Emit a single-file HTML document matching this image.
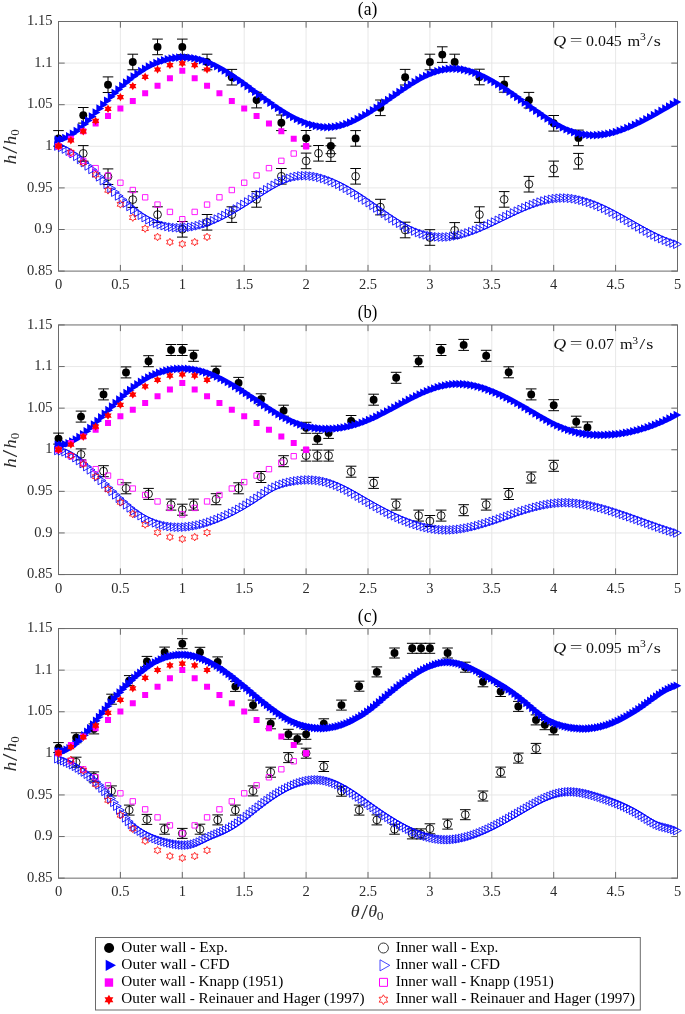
<!DOCTYPE html>
<html><head><meta charset="utf-8"><title>Figure</title>
<style>html,body{margin:0;padding:0;background:#fff;}svg{display:block;}</style>
</head><body>
<svg width="685" height="1014" viewBox="0 0 685 1014" font-family="Liberation Serif, serif" fill="#000">
<rect width="685" height="1014" fill="#fff"/>
<g><path d="M120.4 21.5V271.1M182.3 21.5V271.1M244.2 21.5V271.1M306.1 21.5V271.1M368 21.5V271.1M429.9 21.5V271.1M491.8 21.5V271.1M553.7 21.5V271.1M615.6 21.5V271.1M58.5 63.1H677.5M58.5 104.7H677.5M58.5 146.3H677.5M58.5 187.9H677.5M58.5 229.5H677.5" stroke="#e5e5e5" stroke-width="0.9" fill="none"/><path d="M58.5 271.1v-6.2M58.5 21.5v6.2M120.4 271.1v-6.2M120.4 21.5v6.2M182.3 271.1v-6.2M182.3 21.5v6.2M244.2 271.1v-6.2M244.2 21.5v6.2M306.1 271.1v-6.2M306.1 21.5v6.2M368 271.1v-6.2M368 21.5v6.2M429.9 271.1v-6.2M429.9 21.5v6.2M491.8 271.1v-6.2M491.8 21.5v6.2M553.7 271.1v-6.2M553.7 21.5v6.2M615.6 271.1v-6.2M615.6 21.5v6.2M677.5 271.1v-6.2M677.5 21.5v6.2M58.5 21.5h6.2M677.5 21.5h-6.2M58.5 63.1h6.2M677.5 63.1h-6.2M58.5 104.7h6.2M677.5 104.7h-6.2M58.5 146.3h6.2M677.5 146.3h-6.2M58.5 187.9h6.2M677.5 187.9h-6.2M58.5 229.5h6.2M677.5 229.5h-6.2M58.5 271.1h6.2M677.5 271.1h-6.2" stroke="#6a6a6a" stroke-width="1" fill="none"/><rect x="58.5" y="21.5" width="619" height="249.6" fill="none" stroke="#6a6a6a" stroke-width="1"/><path d="M58.5 130.6V146.2M53.2 130.6H63.8M53.2 146.2H63.8M83.26 107.5V123.1M77.96 107.5H88.56M77.96 123.1H88.56M108.02 76.9V92.5M102.72 76.9H113.32M102.72 92.5H113.32M132.78 54.2V69.8M127.48 54.2H138.08M127.48 69.8H138.08M157.54 39.1V54.7M152.24 39.1H162.84M152.24 54.7H162.84M182.3 39.1V54.7M177 39.1H187.6M177 54.7H187.6M207.06 54.2V69.8M201.76 54.2H212.36M201.76 69.8H212.36M231.82 69.4V85M226.52 69.4H237.12M226.52 85H237.12M256.58 92.3V107.9M251.28 92.3H261.88M251.28 107.9H261.88M281.34 115V130.6M276.04 115H286.64M276.04 130.6H286.64M306.1 130.5V146.1M300.8 130.5H311.4M300.8 146.1H311.4M330.86 138.1V153.7M325.56 138.1H336.16M325.56 153.7H336.16M355.62 130.6V146.2M350.32 130.6H360.92M350.32 146.2H360.92M380.38 100V115.6M375.08 100H385.68M375.08 115.6H385.68M405.14 69.4V85M399.84 69.4H410.44M399.84 85H410.44M429.9 54.2V69.8M424.6 54.2H435.2M424.6 69.8H435.2M442.28 46.8V62.4M436.98 46.8H447.58M436.98 62.4H447.58M454.66 54.2V69.8M449.36 54.2H459.96M449.36 69.8H459.96M479.42 69.2V84.8M474.12 69.2H484.72M474.12 84.8H484.72M504.18 76.6V92.2M498.88 76.6H509.48M498.88 92.2H509.48M528.94 92.4V108M523.64 92.4H534.24M523.64 108H534.24M553.7 115.5V131.1M548.4 115.5H559M548.4 131.1H559M578.46 130.1V145.7M573.16 130.1H583.76M573.16 145.7H583.76M83.26 145.6V161.2M77.96 145.6H88.56M77.96 161.2H88.56M108.02 168.9V184.5M102.72 168.9H113.32M102.72 184.5H113.32M132.78 191.8V207.4M127.48 191.8H138.08M127.48 207.4H138.08M157.54 206.8V222.4M152.24 206.8H162.84M152.24 222.4H162.84M182.3 221.5V237.1M177 221.5H187.6M177 237.1H187.6M207.06 214.5V230.1M201.76 214.5H212.36M201.76 230.1H212.36M231.82 206.8V222.4M226.52 206.8H237.12M226.52 222.4H237.12M256.58 191.6V207.2M251.28 191.6H261.88M251.28 207.2H261.88M281.34 168.5V184.1M276.04 168.5H286.64M276.04 184.1H286.64M306.1 153.1V168.7M300.8 153.1H311.4M300.8 168.7H311.4M318.48 145.5V161.1M313.18 145.5H323.78M313.18 161.1H323.78M330.86 145.8V161.4M325.56 145.8H336.16M325.56 161.4H336.16M355.62 168.5V184.1M350.32 168.5H360.92M350.32 184.1H360.92M380.38 199.3V214.9M375.08 199.3H385.68M375.08 214.9H385.68M405.14 222.2V237.8M399.84 222.2H410.44M399.84 237.8H410.44M429.9 229.7V245.3M424.6 229.7H435.2M424.6 245.3H435.2M454.66 222.6V238.2M449.36 222.6H459.96M449.36 238.2H459.96M479.42 206.8V222.4M474.12 206.8H484.72M474.12 222.4H484.72M504.18 191.6V207.2M498.88 191.6H509.48M498.88 207.2H509.48M528.94 176.4V192M523.64 176.4H534.24M523.64 192H534.24M553.7 161.1V176.7M548.4 161.1H559M548.4 176.7H559M578.46 153.4V169M573.16 153.4H583.76M573.16 169H583.76" stroke="#000" stroke-width="1" fill="none"/><g fill="#000"><circle cx="58.5" cy="138.4" r="3.95"/><circle cx="83.26" cy="115.3" r="3.95"/><circle cx="108.02" cy="84.7" r="3.95"/><circle cx="132.78" cy="62" r="3.95"/><circle cx="157.54" cy="46.9" r="3.95"/><circle cx="182.3" cy="46.9" r="3.95"/><circle cx="207.06" cy="62" r="3.95"/><circle cx="231.82" cy="77.2" r="3.95"/><circle cx="256.58" cy="100.1" r="3.95"/><circle cx="281.34" cy="122.8" r="3.95"/><circle cx="306.1" cy="138.3" r="3.95"/><circle cx="330.86" cy="145.9" r="3.95"/><circle cx="355.62" cy="138.4" r="3.95"/><circle cx="380.38" cy="107.8" r="3.95"/><circle cx="405.14" cy="77.2" r="3.95"/><circle cx="429.9" cy="62" r="3.95"/><circle cx="442.28" cy="54.6" r="3.95"/><circle cx="454.66" cy="62" r="3.95"/><circle cx="479.42" cy="77" r="3.95"/><circle cx="504.18" cy="84.4" r="3.95"/><circle cx="528.94" cy="100.2" r="3.95"/><circle cx="553.7" cy="123.3" r="3.95"/><circle cx="578.46" cy="137.9" r="3.95"/></g><g fill="none" stroke="#000" stroke-width="0.9"><circle cx="83.26" cy="153.4" r="3.9"/><circle cx="108.02" cy="176.7" r="3.9"/><circle cx="132.78" cy="199.6" r="3.9"/><circle cx="157.54" cy="214.6" r="3.9"/><circle cx="182.3" cy="229.3" r="3.9"/><circle cx="207.06" cy="222.3" r="3.9"/><circle cx="231.82" cy="214.6" r="3.9"/><circle cx="256.58" cy="199.4" r="3.9"/><circle cx="281.34" cy="176.3" r="3.9"/><circle cx="306.1" cy="160.9" r="3.9"/><circle cx="318.48" cy="153.3" r="3.9"/><circle cx="330.86" cy="153.6" r="3.9"/><circle cx="355.62" cy="176.3" r="3.9"/><circle cx="380.38" cy="207.1" r="3.9"/><circle cx="405.14" cy="230" r="3.9"/><circle cx="429.9" cy="237.5" r="3.9"/><circle cx="454.66" cy="230.4" r="3.9"/><circle cx="479.42" cy="214.6" r="3.9"/><circle cx="504.18" cy="199.4" r="3.9"/><circle cx="528.94" cy="184.2" r="3.9"/><circle cx="553.7" cy="168.9" r="3.9"/><circle cx="578.46" cy="161.2" r="3.9"/></g><path d="M54.6 135.54L62.4 139.84L54.6 144.14ZM58.4 134.97L66.2 139.27L58.4 143.57ZM62.2 133.72L70 138.02L62.2 142.32ZM65.99 131.88L73.79 136.18L65.99 140.48ZM69.79 129.5L77.59 133.8L69.79 138.1ZM73.59 126.68L81.39 130.98L73.59 135.28ZM77.39 123.47L85.19 127.77L77.39 132.07ZM81.18 119.96L88.98 124.26L81.18 128.56ZM84.98 116.21L92.78 120.51L84.98 124.81ZM88.78 112.3L96.58 116.6L88.78 120.9ZM92.58 108.31L100.38 112.61L92.58 116.91ZM96.37 104.3L104.17 108.6L96.37 112.9ZM100.17 100.32L107.97 104.62L100.17 108.92ZM103.97 96.4L111.77 100.7L103.97 105ZM107.77 92.55L115.57 96.85L107.77 101.15ZM111.56 88.79L119.36 93.09L111.56 97.39ZM115.36 85.15L123.16 89.45L115.36 93.75ZM119.16 81.65L126.96 85.95L119.16 90.25ZM122.96 78.3L130.76 82.6L122.96 86.9ZM126.75 75.13L134.55 79.43L126.75 83.73ZM130.55 72.15L138.35 76.45L130.55 80.75ZM134.35 69.38L142.15 73.68L134.35 77.98ZM138.15 66.83L145.95 71.13L138.15 75.43ZM141.94 64.49L149.74 68.79L141.94 73.09ZM145.74 62.37L153.54 66.67L145.74 70.97ZM149.54 60.46L157.34 64.76L149.54 69.06ZM153.34 58.76L161.14 63.06L153.34 67.36ZM157.13 57.29L164.93 61.59L157.13 65.89ZM160.93 56.03L168.73 60.33L160.93 64.63ZM164.73 54.99L172.53 59.29L164.73 63.59ZM168.53 54.18L176.33 58.48L168.53 62.78ZM172.32 53.59L180.12 57.89L172.32 62.19ZM176.12 53.22L183.92 57.52L176.12 61.82ZM179.92 53.08L187.72 57.38L179.92 61.68ZM183.72 53.16L191.52 57.46L183.72 61.76ZM187.51 53.47L195.31 57.77L187.51 62.07ZM191.31 54.01L199.11 58.31L191.31 62.61ZM195.11 54.78L202.91 59.08L195.11 63.38ZM198.91 55.78L206.71 60.08L198.91 64.38ZM202.7 57.01L210.5 61.31L202.7 65.61ZM206.5 58.47L214.3 62.77L206.5 67.07ZM210.3 60.14L218.1 64.44L210.3 68.74ZM214.1 62.01L221.9 66.31L214.1 70.61ZM217.89 64.06L225.69 68.36L217.89 72.66ZM221.69 66.27L229.49 70.57L221.69 74.87ZM225.49 68.62L233.29 72.92L225.49 77.22ZM229.29 71.09L237.09 75.39L229.29 79.69ZM233.08 73.66L240.88 77.96L233.08 82.26ZM236.88 76.32L244.68 80.62L236.88 84.92ZM240.68 79.04L248.48 83.34L240.68 87.64ZM244.48 81.81L252.28 86.11L244.48 90.41ZM248.27 84.62L256.07 88.92L248.27 93.22ZM252.07 87.43L259.87 91.73L252.07 96.03ZM255.87 90.24L263.67 94.54L255.87 98.84ZM259.67 93.03L267.47 97.33L259.67 101.63ZM263.47 95.77L271.27 100.07L263.47 104.37ZM267.26 98.47L275.06 102.77L267.26 107.07ZM271.06 101.1L278.86 105.4L271.06 109.7ZM274.86 103.65L282.66 107.95L274.86 112.25ZM278.66 106.1L286.46 110.4L278.66 114.7ZM282.45 108.44L290.25 112.74L282.45 117.04ZM286.25 110.66L294.05 114.96L286.25 119.26ZM290.05 112.75L297.85 117.05L290.05 121.35ZM293.85 114.68L301.65 118.98L293.85 123.28ZM297.64 116.44L305.44 120.74L297.64 125.04ZM301.44 118.02L309.24 122.32L301.44 126.62ZM305.24 119.41L313.04 123.71L305.24 128.01ZM309.04 120.59L316.84 124.89L309.04 129.19ZM312.83 121.54L320.63 125.84L312.83 130.14ZM316.63 122.26L324.43 126.56L316.63 130.86ZM320.43 122.73L328.23 127.03L320.43 131.33ZM324.23 122.93L332.03 127.23L324.23 131.53ZM328.02 122.85L335.82 127.15L328.02 131.45ZM331.82 122.48L339.62 126.78L331.82 131.08ZM335.62 121.82L343.42 126.12L335.62 130.42ZM339.42 120.88L347.22 125.18L339.42 129.48ZM343.21 119.7L351.01 124L343.21 128.3ZM347.01 118.28L354.81 122.58L347.01 126.88ZM350.81 116.64L358.61 120.94L350.81 125.24ZM354.61 114.82L362.41 119.12L354.61 123.42ZM358.4 112.82L366.2 117.12L358.4 121.42ZM362.2 110.67L370 114.97L362.2 119.27ZM366 108.39L373.8 112.69L366 116.99ZM369.8 106L377.6 110.3L369.8 114.6ZM373.59 103.51L381.39 107.81L373.59 112.11ZM377.39 100.95L385.19 105.25L377.39 109.55ZM381.19 98.34L388.99 102.64L381.19 106.94ZM384.99 95.69L392.79 99.99L384.99 104.29ZM388.78 93.03L396.58 97.33L388.78 101.63ZM392.58 90.37L400.38 94.67L392.58 98.97ZM396.38 87.74L404.18 92.04L396.38 96.34ZM400.18 85.15L407.98 89.45L400.18 93.75ZM403.97 82.62L411.77 86.92L403.97 91.22ZM407.77 80.18L415.57 84.48L407.77 88.78ZM411.57 77.84L419.37 82.14L411.57 86.44ZM415.37 75.62L423.17 79.92L415.37 84.22ZM419.16 73.54L426.96 77.84L419.16 82.14ZM422.96 71.63L430.76 75.93L422.96 80.23ZM426.76 69.89L434.56 74.19L426.76 78.49ZM430.56 68.36L438.36 72.66L430.56 76.96ZM434.35 67.04L442.15 71.34L434.35 75.64ZM438.15 65.96L445.95 70.26L438.15 74.56ZM441.95 65.14L449.75 69.44L441.95 73.74ZM445.75 64.61L453.55 68.91L445.75 73.21ZM449.54 64.36L457.34 68.66L449.54 72.96ZM453.34 64.41L461.14 68.71L453.34 73.01ZM457.14 64.73L464.94 69.03L457.14 73.33ZM460.94 65.32L468.74 69.62L460.94 73.92ZM464.73 66.16L472.53 70.46L464.73 74.76ZM468.53 67.23L476.33 71.53L468.53 75.83ZM472.33 68.51L480.13 72.81L472.33 77.11ZM476.13 70L483.93 74.3L476.13 78.6ZM479.93 71.68L487.73 75.98L479.93 80.28ZM483.72 73.53L491.52 77.83L483.72 82.13ZM487.52 75.54L495.32 79.84L487.52 84.14ZM491.32 77.69L499.12 81.99L491.32 86.29ZM495.12 79.96L502.92 84.26L495.12 88.56ZM498.91 82.35L506.71 86.65L498.91 90.95ZM502.71 84.83L510.51 89.13L502.71 93.43ZM506.51 87.4L514.31 91.7L506.51 96ZM510.31 90.04L518.11 94.34L510.31 98.64ZM514.1 92.72L521.9 97.02L514.1 101.32ZM517.9 95.44L525.7 99.74L517.9 104.04ZM521.7 98.19L529.5 102.49L521.7 106.79ZM525.5 100.94L533.3 105.24L525.5 109.54ZM529.29 103.68L537.09 107.98L529.29 112.28ZM533.09 106.4L540.89 110.7L533.09 115ZM536.89 109.07L544.69 113.37L536.89 117.67ZM540.69 111.69L548.49 115.99L540.69 120.29ZM544.48 114.22L552.28 118.52L544.48 122.82ZM548.28 116.65L556.08 120.95L548.28 125.25ZM552.08 118.95L559.88 123.25L552.08 127.55ZM555.88 121.1L563.68 125.4L555.88 129.7ZM559.67 123.09L567.47 127.39L559.67 131.69ZM563.47 124.88L571.27 129.18L563.47 133.48ZM567.27 126.46L575.07 130.76L567.27 135.06ZM571.07 127.81L578.87 132.11L571.07 136.41ZM574.86 128.9L582.66 133.2L574.86 137.5ZM578.66 129.75L586.46 134.05L578.66 138.35ZM582.46 130.36L590.26 134.66L582.46 138.96ZM586.26 130.73L594.06 135.03L586.26 139.33ZM590.05 130.89L597.85 135.19L590.05 139.49ZM593.85 130.83L601.65 135.13L593.85 139.43ZM597.65 130.56L605.45 134.86L597.65 139.16ZM601.45 130.1L609.25 134.4L601.45 138.7ZM605.24 129.45L613.04 133.75L605.24 138.05ZM609.04 128.63L616.84 132.93L609.04 137.23ZM612.84 127.63L620.64 131.93L612.84 136.23ZM616.64 126.48L624.44 130.78L616.64 135.08ZM620.43 125.18L628.23 129.48L620.43 133.78ZM624.23 123.75L632.03 128.05L624.23 132.35ZM628.03 122.19L635.83 126.49L628.03 130.79ZM631.83 120.52L639.63 124.82L631.83 129.12ZM635.62 118.75L643.42 123.05L635.62 127.35ZM639.42 116.88L647.22 121.18L639.42 125.48ZM643.22 114.93L651.02 119.23L643.22 123.53ZM647.02 112.92L654.82 117.22L647.02 121.52ZM650.81 110.84L658.61 115.14L650.81 119.44ZM654.61 108.72L662.41 113.02L654.61 117.32ZM658.41 106.55L666.21 110.85L658.41 115.15ZM662.21 104.36L670.01 108.66L662.21 112.96ZM666 102.16L673.8 106.46L666 110.76ZM669.8 99.95L677.6 104.25L669.8 108.55ZM673.6 97.74L681.4 102.04L673.6 106.34Z" fill="#00f"/><path d="M54.6 141.7L62.4 146L54.6 150.3ZM58.4 143.01L66.2 147.31L58.4 151.61ZM62.2 144.74L70 149.04L62.2 153.34ZM65.99 146.84L73.79 151.14L65.99 155.44ZM69.79 149.29L77.59 153.59L69.79 157.89ZM73.59 152.05L81.39 156.35L73.59 160.65ZM77.39 155.1L85.19 159.4L77.39 163.7ZM81.18 158.3L88.98 162.6L81.18 166.9ZM84.98 161.61L92.78 165.91L84.98 170.21ZM88.78 165.11L96.58 169.41L88.78 173.71ZM92.58 168.75L100.38 173.05L92.58 177.35ZM96.37 172.5L104.17 176.8L96.37 181.1ZM100.17 176.32L107.97 180.62L100.17 184.92ZM103.97 180.17L111.77 184.47L103.97 188.77ZM107.77 184.03L115.57 188.33L107.77 192.63ZM111.56 187.85L119.36 192.15L111.56 196.45ZM115.36 191.61L123.16 195.91L115.36 200.21ZM119.16 195.27L126.96 199.57L119.16 203.87ZM122.96 198.8L130.76 203.1L122.96 207.4ZM126.75 202.16L134.55 206.46L126.75 210.76ZM130.55 205.31L138.35 209.61L130.55 213.91ZM134.35 208.23L142.15 212.53L134.35 216.83ZM138.15 210.89L145.95 215.19L138.15 219.49ZM141.94 213.27L149.74 217.57L141.94 221.87ZM145.74 215.39L153.54 219.69L145.74 223.99ZM149.54 217.24L157.34 221.54L149.54 225.84ZM153.34 218.85L161.14 223.15L153.34 227.45ZM157.13 220.2L164.93 224.5L157.13 228.8ZM160.93 221.32L168.73 225.62L160.93 229.92ZM164.73 222.19L172.53 226.49L164.73 230.79ZM168.53 222.84L176.33 227.14L168.53 231.44ZM172.32 223.27L180.12 227.57L172.32 231.87ZM176.12 223.47L183.92 227.77L176.12 232.07ZM179.92 223.46L187.72 227.76L179.92 232.06ZM183.72 223.25L191.52 227.55L183.72 231.85ZM187.51 222.84L195.31 227.14L187.51 231.44ZM191.31 222.23L199.11 226.53L191.31 230.83ZM195.11 221.44L202.91 225.74L195.11 230.04ZM198.91 220.46L206.71 224.76L198.91 229.06ZM202.7 219.31L210.5 223.61L202.7 227.91ZM206.5 217.98L214.3 222.28L206.5 226.58ZM210.3 216.49L218.1 220.79L210.3 225.09ZM214.1 214.85L221.9 219.15L214.1 223.45ZM217.89 213.06L225.69 217.36L217.89 221.66ZM221.69 211.14L229.49 215.44L221.69 219.74ZM225.49 209.11L233.29 213.41L225.49 217.71ZM229.29 206.98L237.09 211.28L229.29 215.58ZM233.08 204.75L240.88 209.05L233.08 213.35ZM236.88 202.46L244.68 206.76L236.88 211.06ZM240.68 200.1L248.48 204.4L240.68 208.7ZM244.48 197.69L252.28 201.99L244.48 206.29ZM248.27 195.25L256.07 199.55L248.27 203.85ZM252.07 192.79L259.87 197.09L252.07 201.39ZM255.87 190.32L263.67 194.62L255.87 198.92ZM259.67 187.88L267.47 192.18L259.67 196.48ZM263.47 185.49L271.27 189.79L263.47 194.09ZM267.26 183.18L275.06 187.48L267.26 191.78ZM271.06 181L278.86 185.3L271.06 189.6ZM274.86 178.97L282.66 183.27L274.86 187.57ZM278.66 177.11L286.46 181.41L278.66 185.71ZM282.45 175.48L290.25 179.78L282.45 184.08ZM286.25 174.09L294.05 178.39L286.25 182.69ZM290.05 172.99L297.85 177.29L290.05 181.59ZM293.85 172.18L301.65 176.48L293.85 180.78ZM297.64 171.67L305.44 175.97L297.64 180.27ZM301.44 171.45L309.24 175.75L301.44 180.05ZM305.24 171.49L313.04 175.79L305.24 180.09ZM309.04 171.8L316.84 176.1L309.04 180.4ZM312.83 172.35L320.63 176.65L312.83 180.95ZM316.63 173.12L324.43 177.42L316.63 181.72ZM320.43 174.12L328.23 178.42L320.43 182.72ZM324.23 175.32L332.03 179.62L324.23 183.92ZM328.02 176.72L335.82 181.02L328.02 185.32ZM331.82 178.29L339.62 182.59L331.82 186.89ZM335.62 180.03L343.42 184.33L335.62 188.63ZM339.42 181.92L347.22 186.22L339.42 190.52ZM343.21 183.96L351.01 188.26L343.21 192.56ZM347.01 186.12L354.81 190.42L347.01 194.72ZM350.81 188.39L358.61 192.69L350.81 196.99ZM354.61 190.76L362.41 195.06L354.61 199.36ZM358.4 193.23L366.2 197.53L358.4 201.83ZM362.2 195.77L370 200.07L362.2 204.37ZM366 198.37L373.8 202.67L366 206.97ZM369.8 201.01L377.6 205.31L369.8 209.61ZM373.59 203.68L381.39 207.98L373.59 212.28ZM377.39 206.34L385.19 210.64L377.39 214.94ZM381.19 208.99L388.99 213.29L381.19 217.59ZM384.99 211.59L392.79 215.89L384.99 220.19ZM388.78 214.12L396.58 218.42L388.78 222.72ZM392.58 216.57L400.38 220.87L392.58 225.17ZM396.38 218.91L404.18 223.21L396.38 227.51ZM400.18 221.11L407.98 225.41L400.18 229.71ZM403.97 223.16L411.77 227.46L403.97 231.76ZM407.77 225.03L415.57 229.33L407.77 233.63ZM411.57 226.71L419.37 231.01L411.57 235.31ZM415.37 228.19L423.17 232.49L415.37 236.79ZM419.16 229.47L426.96 233.77L419.16 238.07ZM422.96 230.55L430.76 234.85L422.96 239.15ZM426.76 231.42L434.56 235.72L426.76 240.02ZM430.56 232.08L438.36 236.38L430.56 240.68ZM434.35 232.53L442.15 236.83L434.35 241.13ZM438.15 232.77L445.95 237.07L438.15 241.37ZM441.95 232.79L449.75 237.09L441.95 241.39ZM445.75 232.59L453.55 236.89L445.75 241.19ZM449.54 232.19L457.34 236.49L449.54 240.79ZM453.34 231.58L461.14 235.88L453.34 240.18ZM457.14 230.79L464.94 235.09L457.14 239.39ZM460.94 229.82L468.74 234.12L460.94 238.42ZM464.73 228.71L472.53 233.01L464.73 237.31ZM468.53 227.45L476.33 231.75L468.53 236.05ZM472.33 226.07L480.13 230.37L472.33 234.67ZM476.13 224.58L483.93 228.88L476.13 233.18ZM479.93 222.99L487.73 227.29L479.93 231.59ZM483.72 221.33L491.52 225.63L483.72 229.93ZM487.52 219.59L495.32 223.89L487.52 228.19ZM491.32 217.81L499.12 222.11L491.32 226.41ZM495.12 215.99L502.92 220.29L495.12 224.59ZM498.91 214.15L506.71 218.45L498.91 222.75ZM502.71 212.3L510.51 216.6L502.71 220.9ZM506.51 210.47L514.31 214.77L506.51 219.07ZM510.31 208.65L518.11 212.95L510.31 217.25ZM514.1 206.88L521.9 211.18L514.1 215.48ZM517.9 205.16L525.7 209.46L517.9 213.76ZM521.7 203.51L529.5 207.81L521.7 212.11ZM525.5 201.94L533.3 206.24L525.5 210.54ZM529.29 200.47L537.09 204.77L529.29 209.07ZM533.09 199.1L540.89 203.4L533.09 207.7ZM536.89 197.86L544.69 202.16L536.89 206.46ZM540.69 196.76L548.49 201.06L540.69 205.36ZM544.48 195.8L552.28 200.1L544.48 204.4ZM548.28 195.01L556.08 199.31L548.28 203.61ZM552.08 194.4L559.88 198.7L552.08 203ZM555.88 193.98L563.68 198.28L555.88 202.58ZM559.67 193.76L567.47 198.06L559.67 202.36ZM563.47 193.76L571.27 198.06L563.47 202.36ZM567.27 193.98L575.07 198.28L567.27 202.58ZM571.07 194.41L578.87 198.71L571.07 203.01ZM574.86 195.05L582.66 199.35L574.86 203.65ZM578.66 195.87L586.46 200.17L578.66 204.47ZM582.46 196.87L590.26 201.17L582.46 205.47ZM586.26 198.03L594.06 202.33L586.26 206.63ZM590.05 199.35L597.85 203.65L590.05 207.95ZM593.85 200.82L601.65 205.12L593.85 209.42ZM597.65 202.41L605.45 206.71L597.65 211.01ZM601.45 204.13L609.25 208.43L601.45 212.73ZM605.24 205.95L613.04 210.25L605.24 214.55ZM609.04 207.87L616.84 212.17L609.04 216.47ZM612.84 209.86L620.64 214.16L612.84 218.46ZM616.64 211.91L624.44 216.21L616.64 220.51ZM620.43 214.01L628.23 218.31L620.43 222.61ZM624.23 216.14L632.03 220.44L624.23 224.74ZM628.03 218.29L635.83 222.59L628.03 226.89ZM631.83 220.44L639.63 224.74L631.83 229.04ZM635.62 222.58L643.42 226.88L635.62 231.18ZM639.42 224.69L647.22 228.99L639.42 233.29ZM643.22 226.76L651.02 231.06L643.22 235.36ZM647.02 228.76L654.82 233.06L647.02 237.36ZM650.81 230.7L658.61 235L650.81 239.3ZM654.61 232.54L662.41 236.84L654.61 241.14ZM658.41 234.28L666.21 238.58L658.41 242.88ZM662.21 235.91L670.01 240.21L662.21 244.51ZM666 237.4L673.8 241.7L666 246ZM669.8 238.74L677.6 243.04L669.8 247.34ZM673.6 239.91L681.4 244.21L673.6 248.51Z" fill="none" stroke="#00f" stroke-width="0.85"/><path d="M55.5 143.25h6v6h-6ZM67.88 135.69h6v6h-6ZM80.26 128.14h6v6h-6ZM92.64 120.58h6v6h-6ZM105.02 113.03h6v6h-6ZM117.4 105.47h6v6h-6ZM129.78 97.92h6v6h-6ZM142.16 90.36h6v6h-6ZM154.54 82.81h6v6h-6ZM166.92 75.25h6v6h-6ZM179.3 67.7h6v6h-6ZM191.68 75.26h6v6h-6ZM204.06 82.81h6v6h-6ZM216.44 90.37h6v6h-6ZM228.82 97.92h6v6h-6ZM241.2 105.47h6v6h-6ZM253.58 113.03h6v6h-6ZM265.96 120.59h6v6h-6ZM278.34 128.14h6v6h-6ZM290.72 135.7h6v6h-6ZM303.1 143.25h6v6h-6Z" fill="#f0f"/><path d="M55.8 143.55h5.4v5.4h-5.4ZM68.18 150.84h5.4v5.4h-5.4ZM80.56 158.14h5.4v5.4h-5.4ZM92.94 165.44h5.4v5.4h-5.4ZM105.32 172.73h5.4v5.4h-5.4ZM117.7 180.03h5.4v5.4h-5.4ZM130.08 187.32h5.4v5.4h-5.4ZM142.46 194.62h5.4v5.4h-5.4ZM154.84 201.91h5.4v5.4h-5.4ZM167.22 209.2h5.4v5.4h-5.4ZM179.6 216.5h5.4v5.4h-5.4ZM191.98 209.2h5.4v5.4h-5.4ZM204.36 201.91h5.4v5.4h-5.4ZM216.74 194.62h5.4v5.4h-5.4ZM229.12 187.32h5.4v5.4h-5.4ZM241.5 180.03h5.4v5.4h-5.4ZM253.88 172.73h5.4v5.4h-5.4ZM266.26 165.44h5.4v5.4h-5.4ZM278.64 158.14h5.4v5.4h-5.4ZM291.02 150.84h5.4v5.4h-5.4ZM303.4 143.55h5.4v5.4h-5.4Z" fill="none" stroke="#f0f" stroke-width="0.9"/><path d="M58.5 142.05L57.27 144.13L54.86 144.15L56.05 146.25L54.86 148.35L57.27 148.37L58.5 150.45L59.73 148.37L62.14 148.35L60.95 146.25L62.14 144.15L59.73 144.13ZM70.88 136.1L69.66 138.18L67.24 138.2L68.43 140.3L67.24 142.4L69.66 142.42L70.88 144.5L72.1 142.42L74.52 142.4L73.33 140.3L74.52 138.2L72.1 138.18ZM83.26 127.2L82.04 129.28L79.62 129.3L80.81 131.4L79.62 133.5L82.04 133.52L83.26 135.6L84.48 133.52L86.9 133.5L85.71 131.4L86.9 129.3L84.49 129.28ZM95.64 116.7L94.42 118.78L92 118.8L93.19 120.9L92 123L94.42 123.02L95.64 125.1L96.87 123.02L99.28 123L98.09 120.9L99.28 118.8L96.87 118.78ZM108.02 104.6L106.8 106.68L104.38 106.7L105.57 108.8L104.38 110.9L106.8 110.92L108.02 113L109.25 110.92L111.66 110.9L110.47 108.8L111.66 106.7L109.25 106.68ZM120.4 92.9L119.18 94.98L116.76 95L117.95 97.1L116.76 99.2L119.18 99.22L120.4 101.3L121.62 99.22L124.04 99.2L122.85 97.1L124.04 95L121.62 94.98ZM132.78 81.9L131.56 83.98L129.14 84L130.33 86.1L129.14 88.2L131.56 88.22L132.78 90.3L134.01 88.22L136.42 88.2L135.23 86.1L136.42 84L134.01 83.98ZM145.16 72.6L143.94 74.68L141.52 74.7L142.71 76.8L141.52 78.9L143.94 78.92L145.16 81L146.39 78.92L148.8 78.9L147.61 76.8L148.8 74.7L146.39 74.68ZM157.54 65.3L156.32 67.38L153.9 67.4L155.09 69.5L153.9 71.6L156.32 71.62L157.54 73.7L158.77 71.62L161.18 71.6L159.99 69.5L161.18 67.4L158.77 67.38ZM169.92 60.9L168.7 62.98L166.28 63L167.47 65.1L166.28 67.2L168.7 67.22L169.92 69.3L171.15 67.22L173.56 67.2L172.37 65.1L173.56 63L171.15 62.98ZM182.3 59.2L181.08 61.28L178.66 61.3L179.85 63.4L178.66 65.5L181.08 65.52L182.3 67.6L183.53 65.52L185.94 65.5L184.75 63.4L185.94 61.3L183.53 61.28ZM194.68 60.9L193.46 62.98L191.04 63L192.23 65.1L191.04 67.2L193.46 67.22L194.68 69.3L195.91 67.22L198.32 67.2L197.13 65.1L198.32 63L195.91 62.98ZM207.06 65.3L205.84 67.38L203.42 67.4L204.61 69.5L203.42 71.6L205.84 71.62L207.06 73.7L208.29 71.62L210.7 71.6L209.51 69.5L210.7 67.4L208.29 67.38Z" fill="#f00"/><path d="M58.5 142.2L57.4 144.09L55.21 144.1L56.3 146L55.21 147.9L57.4 147.91L58.5 149.8L59.6 147.91L61.79 147.9L60.7 146L61.79 144.1L59.6 144.09ZM70.88 148.4L69.78 150.29L67.59 150.3L68.68 152.2L67.59 154.1L69.78 154.11L70.88 156L71.98 154.11L74.17 154.1L73.08 152.2L74.17 150.3L71.98 150.29ZM83.26 158.9L82.16 160.79L79.97 160.8L81.06 162.7L79.97 164.6L82.16 164.61L83.26 166.5L84.36 164.61L86.55 164.6L85.46 162.7L86.55 160.8L84.36 160.79ZM95.64 171L94.54 172.89L92.35 172.9L93.44 174.8L92.35 176.7L94.54 176.71L95.64 178.6L96.74 176.71L98.93 176.7L97.84 174.8L98.93 172.9L96.74 172.89ZM108.02 186.5L106.92 188.39L104.73 188.4L105.82 190.3L104.73 192.2L106.92 192.21L108.02 194.1L109.12 192.21L111.31 192.2L110.22 190.3L111.31 188.4L109.12 188.39ZM120.4 200.5L119.3 202.39L117.11 202.4L118.2 204.3L117.11 206.2L119.3 206.21L120.4 208.1L121.5 206.21L123.69 206.2L122.6 204.3L123.69 202.4L121.5 202.39ZM132.78 213.8L131.68 215.69L129.49 215.7L130.58 217.6L129.49 219.5L131.68 219.51L132.78 221.4L133.88 219.51L136.07 219.5L134.98 217.6L136.07 215.7L133.88 215.69ZM145.16 224.8L144.06 226.69L141.87 226.7L142.96 228.6L141.87 230.5L144.06 230.51L145.16 232.4L146.26 230.51L148.45 230.5L147.36 228.6L148.45 226.7L146.26 226.69ZM157.54 233.2L156.44 235.09L154.25 235.1L155.34 237L154.25 238.9L156.44 238.91L157.54 240.8L158.64 238.91L160.83 238.9L159.74 237L160.83 235.1L158.64 235.09ZM169.92 238.3L168.82 240.19L166.63 240.2L167.72 242.1L166.63 244L168.82 244.01L169.92 245.9L171.02 244.01L173.21 244L172.12 242.1L173.21 240.2L171.02 240.19ZM182.3 240.2L181.2 242.09L179.01 242.1L180.1 244L179.01 245.9L181.2 245.91L182.3 247.8L183.4 245.91L185.59 245.9L184.5 244L185.59 242.1L183.4 242.09ZM194.68 238.3L193.58 240.19L191.39 240.2L192.48 242.1L191.39 244L193.58 244.01L194.68 245.9L195.78 244.01L197.97 244L196.88 242.1L197.97 240.2L195.78 240.19ZM207.06 233.2L205.96 235.09L203.77 235.1L204.86 237L203.77 238.9L205.96 238.91L207.06 240.8L208.16 238.91L210.35 238.9L209.26 237L210.35 235.1L208.16 235.09Z" fill="none" stroke="#f00" stroke-width="0.8"/><g style="font-size:14.5px" fill="#2b2b2b"><text x="52.4" y="25.1" text-anchor="end">1.15</text><text x="52.4" y="66.7" text-anchor="end">1.1</text><text x="52.4" y="108.3" text-anchor="end">1.05</text><text x="52.4" y="149.9" text-anchor="end">1</text><text x="52.4" y="191.5" text-anchor="end">0.95</text><text x="52.4" y="233.1" text-anchor="end">0.9</text><text x="52.4" y="274.7" text-anchor="end">0.85</text><text x="58.5" y="289.3" text-anchor="middle">0</text><text x="120.4" y="289.3" text-anchor="middle">0.5</text><text x="182.3" y="289.3" text-anchor="middle">1</text><text x="244.2" y="289.3" text-anchor="middle">1.5</text><text x="306.1" y="289.3" text-anchor="middle">2</text><text x="368" y="289.3" text-anchor="middle">2.5</text><text x="429.9" y="289.3" text-anchor="middle">3</text><text x="491.8" y="289.3" text-anchor="middle">3.5</text><text x="553.7" y="289.3" text-anchor="middle">4</text><text x="615.6" y="289.3" text-anchor="middle">4.5</text><text x="677.5" y="289.3" text-anchor="middle">5</text></g><text x="357.83" y="14.90" textLength="19.44" lengthAdjust="spacingAndGlyphs" style="font-size:17.80px" >(a)</text><g fill="#111"><text x="553.21" y="45.90" textLength="12.92" lengthAdjust="spacingAndGlyphs" style="font-size:15.50px;font-style:italic" >Q</text><text x="569.68" y="44.70" textLength="12.73" lengthAdjust="spacingAndGlyphs" style="font-size:15.50px" >=</text><text x="585.99" y="45.90" textLength="35.83" lengthAdjust="spacingAndGlyphs" style="font-size:15.00px" >0.045</text><text x="627.56" y="45.90" textLength="12.70" lengthAdjust="spacingAndGlyphs" style="font-size:15.00px" >m</text><text x="639.94" y="40.30" textLength="5.81" lengthAdjust="spacingAndGlyphs" style="font-size:10.20px" >3</text><text x="647.00" y="45.90" textLength="5.70" lengthAdjust="spacingAndGlyphs" style="font-size:15.50px" >/</text><text x="653.75" y="45.90" textLength="7.11" lengthAdjust="spacingAndGlyphs" style="font-size:15.00px" >s</text></g><g transform="translate(15.7 0) rotate(-90)" fill="#2b2b2b"><text x="-164.56" y="0.00" textLength="9.83" lengthAdjust="spacingAndGlyphs" style="font-size:16.50px;font-style:italic" >h</text><text x="-153.85" y="1.60" textLength="7.40" lengthAdjust="spacingAndGlyphs" style="font-size:20.50px" >/</text><text x="-145.01" y="0.00" textLength="9.12" lengthAdjust="spacingAndGlyphs" style="font-size:16.50px;font-style:italic" >h</text><text x="-135.84" y="3.00" textLength="6.49" lengthAdjust="spacingAndGlyphs" style="font-size:11.50px" >0</text></g></g>
<g><path d="M120.4 324.95V574.55M182.3 324.95V574.55M244.2 324.95V574.55M306.1 324.95V574.55M368 324.95V574.55M429.9 324.95V574.55M491.8 324.95V574.55M553.7 324.95V574.55M615.6 324.95V574.55M58.5 366.55H677.5M58.5 408.15H677.5M58.5 449.75H677.5M58.5 491.35H677.5M58.5 532.95H677.5" stroke="#e5e5e5" stroke-width="0.9" fill="none"/><path d="M58.5 574.55v-6.2M58.5 324.95v6.2M120.4 574.55v-6.2M120.4 324.95v6.2M182.3 574.55v-6.2M182.3 324.95v6.2M244.2 574.55v-6.2M244.2 324.95v6.2M306.1 574.55v-6.2M306.1 324.95v6.2M368 574.55v-6.2M368 324.95v6.2M429.9 574.55v-6.2M429.9 324.95v6.2M491.8 574.55v-6.2M491.8 324.95v6.2M553.7 574.55v-6.2M553.7 324.95v6.2M615.6 574.55v-6.2M615.6 324.95v6.2M677.5 574.55v-6.2M677.5 324.95v6.2M58.5 324.95h6.2M677.5 324.95h-6.2M58.5 366.55h6.2M677.5 366.55h-6.2M58.5 408.15h6.2M677.5 408.15h-6.2M58.5 449.75h6.2M677.5 449.75h-6.2M58.5 491.35h6.2M677.5 491.35h-6.2M58.5 532.95h6.2M677.5 532.95h-6.2M58.5 574.55h6.2M677.5 574.55h-6.2" stroke="#6a6a6a" stroke-width="1" fill="none"/><rect x="58.5" y="324.95" width="619" height="249.6" fill="none" stroke="#6a6a6a" stroke-width="1"/><path d="M58.5 433.1V444.1M53.2 433.1H63.8M53.2 444.1H63.8M81.01 411.1V422.1M75.71 411.1H86.31M75.71 422.1H86.31M103.52 388.9V399.9M98.22 388.9H108.82M98.22 399.9H108.82M126.03 366.9V377.9M120.73 366.9H131.33M120.73 377.9H131.33M148.54 355.7V366.7M143.24 355.7H153.84M143.24 366.7H153.84M171.05 344.5V355.5M165.75 344.5H176.35M165.75 355.5H176.35M182.3 344.5V355.5M177 344.5H187.6M177 355.5H187.6M193.55 350.3V361.3M188.25 350.3H198.85M188.25 361.3H198.85M216.06 366.2V377.2M210.76 366.2H221.36M210.76 377.2H221.36M238.57 377.4V388.4M233.27 377.4H243.87M233.27 388.4H243.87M261.08 393.8V404.8M255.78 393.8H266.38M255.78 404.8H266.38M283.59 405.2V416.2M278.29 405.2H288.89M278.29 416.2H288.89M306.1 422.3V433.3M300.8 422.3H311.4M300.8 433.3H311.4M317.35 433.3V444.3M312.05 433.3H322.65M312.05 444.3H322.65M328.61 427.4V438.4M323.31 427.4H333.91M323.31 438.4H333.91M351.12 415.5V426.5M345.82 415.5H356.42M345.82 426.5H356.42M373.63 394.2V405.2M368.33 394.2H378.93M368.33 405.2H378.93M396.14 372.3V383.3M390.84 372.3H401.44M390.84 383.3H401.44M418.65 355.7V366.7M413.35 355.7H423.95M413.35 366.7H423.95M441.15 344.5V355.5M435.85 344.5H446.45M435.85 355.5H446.45M463.66 339.4V350.4M458.36 339.4H468.96M458.36 350.4H468.96M486.17 350.3V361.3M480.87 350.3H491.47M480.87 361.3H491.47M508.68 366.8V377.8M503.38 366.8H513.98M503.38 377.8H513.98M531.19 388.9V399.9M525.89 388.9H536.49M525.89 399.9H536.49M553.7 399.7V410.7M548.4 399.7H559M548.4 410.7H559M576.21 416.2V427.2M570.91 416.2H581.51M570.91 427.2H581.51M587.46 421.9V432.9M582.16 421.9H592.76M582.16 432.9H592.76M81.01 448.9V459.9M75.71 448.9H86.31M75.71 459.9H86.31M103.52 465.7V476.7M98.22 465.7H108.82M98.22 476.7H108.82M126.03 482.8V493.8M120.73 482.8H131.33M120.73 493.8H131.33M148.54 488.4V499.4M143.24 488.4H153.84M143.24 499.4H153.84M171.05 499.1V510.1M165.75 499.1H176.35M165.75 510.1H176.35M182.3 504.2V515.2M177 504.2H187.6M177 515.2H187.6M193.55 499.1V510.1M188.25 499.1H198.85M188.25 510.1H198.85M216.06 493.7V504.7M210.76 493.7H221.36M210.76 504.7H221.36M238.57 482.8V493.8M233.27 482.8H243.87M233.27 493.8H243.87M261.08 471.5V482.5M255.78 471.5H266.38M255.78 482.5H266.38M283.59 455.7V466.7M278.29 455.7H288.89M278.29 466.7H288.89M306.1 450.1V461.1M300.8 450.1H311.4M300.8 461.1H311.4M317.35 450.1V461.1M312.05 450.1H322.65M312.05 461.1H322.65M328.61 450.1V461.1M323.31 450.1H333.91M323.31 461.1H333.91M351.12 466.2V477.2M345.82 466.2H356.42M345.82 477.2H356.42M373.63 477.4V488.4M368.33 477.4H378.93M368.33 488.4H378.93M396.14 499.1V510.1M390.84 499.1H401.44M390.84 510.1H401.44M418.65 510.1V521.1M413.35 510.1H423.95M413.35 521.1H423.95M429.9 515.5V526.5M424.6 515.5H435.2M424.6 526.5H435.2M441.15 510.1V521.1M435.85 510.1H446.45M435.85 521.1H446.45M463.66 504.7V515.7M458.36 504.7H468.96M458.36 515.7H468.96M486.17 499.1V510.1M480.87 499.1H491.47M480.87 510.1H491.47M508.68 488.5V499.5M503.38 488.5H513.98M503.38 499.5H513.98M531.19 472V483M525.89 472H536.49M525.89 483H536.49M553.7 460.3V471.3M548.4 460.3H559M548.4 471.3H559" stroke="#000" stroke-width="1" fill="none"/><g fill="#000"><circle cx="58.5" cy="438.6" r="3.95"/><circle cx="81.01" cy="416.6" r="3.95"/><circle cx="103.52" cy="394.4" r="3.95"/><circle cx="126.03" cy="372.4" r="3.95"/><circle cx="148.54" cy="361.2" r="3.95"/><circle cx="171.05" cy="350" r="3.95"/><circle cx="182.3" cy="350" r="3.95"/><circle cx="193.55" cy="355.8" r="3.95"/><circle cx="216.06" cy="371.7" r="3.95"/><circle cx="238.57" cy="382.9" r="3.95"/><circle cx="261.08" cy="399.3" r="3.95"/><circle cx="283.59" cy="410.7" r="3.95"/><circle cx="306.1" cy="427.8" r="3.95"/><circle cx="317.35" cy="438.8" r="3.95"/><circle cx="328.61" cy="432.9" r="3.95"/><circle cx="351.12" cy="421" r="3.95"/><circle cx="373.63" cy="399.7" r="3.95"/><circle cx="396.14" cy="377.8" r="3.95"/><circle cx="418.65" cy="361.2" r="3.95"/><circle cx="441.15" cy="350" r="3.95"/><circle cx="463.66" cy="344.9" r="3.95"/><circle cx="486.17" cy="355.8" r="3.95"/><circle cx="508.68" cy="372.3" r="3.95"/><circle cx="531.19" cy="394.4" r="3.95"/><circle cx="553.7" cy="405.2" r="3.95"/><circle cx="576.21" cy="421.7" r="3.95"/><circle cx="587.46" cy="427.4" r="3.95"/></g><g fill="none" stroke="#000" stroke-width="0.9"><circle cx="81.01" cy="454.4" r="3.9"/><circle cx="103.52" cy="471.2" r="3.9"/><circle cx="126.03" cy="488.3" r="3.9"/><circle cx="148.54" cy="493.9" r="3.9"/><circle cx="171.05" cy="504.6" r="3.9"/><circle cx="182.3" cy="509.7" r="3.9"/><circle cx="193.55" cy="504.6" r="3.9"/><circle cx="216.06" cy="499.2" r="3.9"/><circle cx="238.57" cy="488.3" r="3.9"/><circle cx="261.08" cy="477" r="3.9"/><circle cx="283.59" cy="461.2" r="3.9"/><circle cx="306.1" cy="455.6" r="3.9"/><circle cx="317.35" cy="455.6" r="3.9"/><circle cx="328.61" cy="455.6" r="3.9"/><circle cx="351.12" cy="471.7" r="3.9"/><circle cx="373.63" cy="482.9" r="3.9"/><circle cx="396.14" cy="504.6" r="3.9"/><circle cx="418.65" cy="515.6" r="3.9"/><circle cx="429.9" cy="521" r="3.9"/><circle cx="441.15" cy="515.6" r="3.9"/><circle cx="463.66" cy="510.2" r="3.9"/><circle cx="486.17" cy="504.6" r="3.9"/><circle cx="508.68" cy="494" r="3.9"/><circle cx="531.19" cy="477.5" r="3.9"/><circle cx="553.7" cy="465.8" r="3.9"/></g><path d="M54.6 440.55L62.4 444.85L54.6 449.15ZM58.22 440.58L66.02 444.88L58.22 449.18ZM61.84 440.01L69.64 444.31L61.84 448.61ZM65.46 438.89L73.26 443.19L65.46 447.49ZM69.08 437.27L76.88 441.57L69.08 445.87ZM72.7 435.21L80.5 439.51L72.7 443.81ZM76.32 432.76L84.12 437.06L76.32 441.36ZM79.94 429.98L87.74 434.28L79.94 438.58ZM83.56 426.93L91.36 431.23L83.56 435.53ZM87.18 423.66L94.98 427.96L87.18 432.26ZM90.8 420.22L98.6 424.52L90.8 428.82ZM94.42 416.68L102.22 420.98L94.42 425.28ZM98.04 413.09L105.84 417.39L98.04 421.69ZM101.66 409.47L109.46 413.77L101.66 418.07ZM105.28 405.87L113.08 410.17L105.28 414.47ZM108.9 402.29L116.7 406.59L108.9 410.89ZM112.52 398.76L120.32 403.06L112.52 407.36ZM116.14 395.31L123.94 399.61L116.14 403.91ZM119.76 391.96L127.56 396.26L119.76 400.56ZM123.38 388.74L131.18 393.04L123.38 397.34ZM127 385.67L134.8 389.97L127 394.27ZM130.62 382.77L138.42 387.07L130.62 391.37ZM134.24 380.08L142.04 384.38L134.24 388.68ZM137.86 377.6L145.66 381.9L137.86 386.2ZM141.48 375.35L149.28 379.65L141.48 383.95ZM145.1 373.32L152.9 377.62L145.1 381.92ZM148.72 371.5L156.52 375.8L148.72 380.1ZM152.34 369.9L160.14 374.2L152.34 378.5ZM155.96 368.51L163.76 372.81L155.96 377.11ZM159.58 367.33L167.38 371.63L159.58 375.93ZM163.2 366.36L171 370.66L163.2 374.96ZM166.82 365.58L174.62 369.88L166.82 374.18ZM170.44 365L178.24 369.3L170.44 373.6ZM174.06 364.62L181.86 368.92L174.06 373.22ZM177.68 364.42L185.48 368.72L177.68 373.02ZM181.3 364.42L189.1 368.72L181.3 373.02ZM184.92 364.59L192.72 368.89L184.92 373.19ZM188.54 364.95L196.34 369.25L188.54 373.55ZM192.16 365.49L199.96 369.79L192.16 374.09ZM195.78 366.19L203.58 370.49L195.78 374.79ZM199.4 367.07L207.2 371.37L199.4 375.67ZM203.02 368.12L210.82 372.42L203.02 376.72ZM206.64 369.32L214.44 373.62L206.64 377.92ZM210.25 370.69L218.05 374.99L210.25 379.29ZM213.87 372.22L221.67 376.52L213.87 380.82ZM217.49 373.9L225.29 378.2L217.49 382.5ZM221.11 375.72L228.91 380.02L221.11 384.32ZM224.73 377.66L232.53 381.96L224.73 386.26ZM228.35 379.72L236.15 384.02L228.35 388.32ZM231.97 381.88L239.77 386.18L231.97 390.48ZM235.59 384.11L243.39 388.41L235.59 392.71ZM239.21 386.42L247.01 390.72L239.21 395.02ZM242.83 388.77L250.63 393.07L242.83 397.37ZM246.45 391.16L254.25 395.46L246.45 399.76ZM250.07 393.57L257.87 397.87L250.07 402.17ZM253.69 395.99L261.49 400.29L253.69 404.59ZM257.31 398.4L265.11 402.7L257.31 407ZM260.93 400.79L268.73 405.09L260.93 409.39ZM264.55 403.14L272.35 407.44L264.55 411.74ZM268.17 405.43L275.97 409.73L268.17 414.03ZM271.79 407.66L279.59 411.96L271.79 416.26ZM275.41 409.8L283.21 414.1L275.41 418.4ZM279.03 411.84L286.83 416.14L279.03 420.44ZM282.65 413.76L290.45 418.06L282.65 422.36ZM286.27 415.56L294.07 419.86L286.27 424.16ZM289.89 417.21L297.69 421.51L289.89 425.81ZM293.51 418.71L301.31 423.01L293.51 427.31ZM297.13 420.03L304.93 424.33L297.13 428.63ZM300.75 421.17L308.55 425.47L300.75 429.77ZM304.37 422.15L312.17 426.45L304.37 430.75ZM307.99 422.95L315.79 427.25L307.99 431.55ZM311.61 423.59L319.41 427.89L311.61 432.19ZM315.23 424.07L323.03 428.37L315.23 432.67ZM318.85 424.39L326.65 428.69L318.85 432.99ZM322.47 424.56L330.27 428.86L322.47 433.16ZM326.09 424.57L333.89 428.87L326.09 433.17ZM329.71 424.44L337.51 428.74L329.71 433.04ZM333.33 424.16L341.13 428.46L333.33 432.76ZM336.95 423.74L344.75 428.04L336.95 432.34ZM340.57 423.18L348.37 427.48L340.57 431.78ZM344.19 422.49L351.99 426.79L344.19 431.09ZM347.81 421.67L355.61 425.97L347.81 430.27ZM351.43 420.72L359.23 425.02L351.43 429.32ZM355.05 419.64L362.85 423.94L355.05 428.24ZM358.67 418.45L366.47 422.75L358.67 427.05ZM362.29 417.13L370.09 421.43L362.29 425.73ZM365.91 415.71L373.71 420.01L365.91 424.31ZM369.53 414.17L377.33 418.47L369.53 422.77ZM373.15 412.53L380.95 416.83L373.15 421.13ZM376.77 410.81L384.57 415.11L376.77 419.41ZM380.39 409.01L388.19 413.31L380.39 417.61ZM384.01 407.15L391.81 411.45L384.01 415.75ZM387.63 405.25L395.43 409.55L387.63 413.85ZM391.25 403.32L399.05 407.62L391.25 411.92ZM394.87 401.37L402.67 405.67L394.87 409.97ZM398.49 399.42L406.29 403.72L398.49 408.02ZM402.11 397.49L409.91 401.79L402.11 406.09ZM405.73 395.58L413.53 399.88L405.73 404.18ZM409.35 393.71L417.15 398.01L409.35 402.31ZM412.97 391.9L420.77 396.2L412.97 400.5ZM416.59 390.16L424.39 394.46L416.59 398.76ZM420.21 388.5L428.01 392.8L420.21 397.1ZM423.83 386.94L431.63 391.24L423.83 395.54ZM427.45 385.5L435.25 389.8L427.45 394.1ZM431.07 384.18L438.87 388.48L431.07 392.78ZM434.69 383L442.49 387.3L434.69 391.6ZM438.31 381.98L446.11 386.28L438.31 390.58ZM441.93 381.13L449.73 385.43L441.93 389.73ZM445.55 380.46L453.35 384.76L445.55 389.06ZM449.17 380L456.97 384.3L449.17 388.6ZM452.79 379.73L460.59 384.03L452.79 388.33ZM456.41 379.67L464.21 383.97L456.41 388.27ZM460.03 379.79L467.83 384.09L460.03 388.39ZM463.65 380.1L471.45 384.4L463.65 388.7ZM467.27 380.58L475.07 384.88L467.27 389.18ZM470.89 381.23L478.69 385.53L470.89 389.83ZM474.51 382.03L482.31 386.33L474.51 390.63ZM478.13 382.98L485.93 387.28L478.13 391.58ZM481.75 384.07L489.55 388.37L481.75 392.67ZM485.37 385.28L493.17 389.58L485.37 393.88ZM488.99 386.63L496.79 390.93L488.99 395.23ZM492.61 388.08L500.41 392.38L492.61 396.68ZM496.23 389.64L504.03 393.94L496.23 398.24ZM499.85 391.3L507.65 395.6L499.85 399.9ZM503.47 393.04L511.27 397.34L503.47 401.64ZM507.09 394.86L514.89 399.16L507.09 403.46ZM510.71 396.76L518.51 401.06L510.71 405.36ZM514.33 398.72L522.13 403.02L514.33 407.32ZM517.95 400.73L525.75 405.03L517.95 409.33ZM521.56 402.79L529.36 407.09L521.56 411.39ZM525.18 404.88L532.98 409.18L525.18 413.48ZM528.8 407L536.6 411.3L528.8 415.6ZM532.42 409.12L540.22 413.42L532.42 417.72ZM536.04 411.23L543.84 415.53L536.04 419.83ZM539.66 413.31L547.46 417.61L539.66 421.91ZM543.28 415.33L551.08 419.63L543.28 423.93ZM546.9 417.29L554.7 421.59L546.9 425.89ZM550.52 419.16L558.32 423.46L550.52 427.76ZM554.14 420.92L561.94 425.22L554.14 429.52ZM557.76 422.55L565.56 426.85L557.76 431.15ZM561.38 424.04L569.18 428.34L561.38 432.64ZM565 425.36L572.8 429.66L565 433.96ZM568.62 426.52L576.42 430.82L568.62 435.12ZM572.24 427.53L580.04 431.83L572.24 436.13ZM575.86 428.38L583.66 432.68L575.86 436.98ZM579.48 429.09L587.28 433.39L579.48 437.69ZM583.1 429.66L590.9 433.96L583.1 438.26ZM586.72 430.1L594.52 434.4L586.72 438.7ZM590.34 430.42L598.14 434.72L590.34 439.02ZM593.96 430.62L601.76 434.92L593.96 439.22ZM597.58 430.7L605.38 435L597.58 439.3ZM601.2 430.69L609 434.99L601.2 439.29ZM604.82 430.57L612.62 434.87L604.82 439.17ZM608.44 430.36L616.24 434.66L608.44 438.96ZM612.06 430.05L619.86 434.35L612.06 438.65ZM615.68 429.65L623.48 433.95L615.68 438.25ZM619.3 429.16L627.1 433.46L619.3 437.76ZM622.92 428.57L630.72 432.87L622.92 437.17ZM626.54 427.89L634.34 432.19L626.54 436.49ZM630.16 427.11L637.96 431.41L630.16 435.71ZM633.78 426.25L641.58 430.55L633.78 434.85ZM637.4 425.29L645.2 429.59L637.4 433.89ZM641.02 424.24L648.82 428.54L641.02 432.84ZM644.64 423.1L652.44 427.4L644.64 431.7ZM648.26 421.87L656.06 426.17L648.26 430.47ZM651.88 420.55L659.68 424.85L651.88 429.15ZM655.5 419.13L663.3 423.43L655.5 427.73ZM659.12 417.64L666.92 421.94L659.12 426.24ZM662.74 416.05L670.54 420.35L662.74 424.65ZM666.36 414.37L674.16 418.67L666.36 422.97ZM669.98 412.61L677.78 416.91L669.98 421.21ZM673.6 410.76L681.4 415.06L673.6 419.36Z" fill="#00f"/><path d="M54.6 446.2L62.4 450.5L54.6 454.8ZM58.22 446.53L66.02 450.83L58.22 455.13ZM61.84 447.48L69.64 451.78L61.84 456.08ZM65.46 448.97L73.26 453.27L65.46 457.57ZM69.08 450.93L76.88 455.23L69.08 459.53ZM72.7 453.36L80.5 457.66L72.7 461.96ZM76.32 456.24L84.12 460.54L76.32 464.84ZM79.94 459.29L87.74 463.59L79.94 467.89ZM83.56 462.32L91.36 466.62L83.56 470.92ZM87.18 465.52L94.98 469.82L87.18 474.12ZM90.8 468.96L98.6 473.26L90.8 477.56ZM94.42 472.52L102.22 476.82L94.42 481.12ZM98.04 476.13L105.84 480.43L98.04 484.73ZM101.66 479.77L109.46 484.07L101.66 488.37ZM105.28 483.4L113.08 487.7L105.28 492ZM108.9 487L116.7 491.3L108.9 495.6ZM112.52 490.53L120.32 494.83L112.52 499.13ZM116.14 493.98L123.94 498.28L116.14 502.58ZM119.76 497.31L127.56 501.61L119.76 505.91ZM123.38 500.5L131.18 504.8L123.38 509.1ZM127 503.53L134.8 507.83L127 512.13ZM130.62 506.37L138.42 510.67L130.62 514.97ZM134.24 508.99L142.04 513.29L134.24 517.59ZM137.86 511.37L145.66 515.67L137.86 519.97ZM141.48 513.51L149.28 517.81L141.48 522.11ZM145.1 515.4L152.9 519.7L145.1 524ZM148.72 517.07L156.52 521.37L148.72 525.67ZM152.34 518.52L160.14 522.82L152.34 527.12ZM155.96 519.74L163.76 524.04L155.96 528.34ZM159.58 520.76L167.38 525.06L159.58 529.36ZM163.2 521.57L171 525.87L163.2 530.17ZM166.82 522.19L174.62 526.49L166.82 530.79ZM170.44 522.61L178.24 526.91L170.44 531.21ZM174.06 522.85L181.86 527.15L174.06 531.45ZM177.68 522.91L185.48 527.21L177.68 531.51ZM181.3 522.81L189.1 527.11L181.3 531.41ZM184.92 522.54L192.72 526.84L184.92 531.14ZM188.54 522.11L196.34 526.41L188.54 530.71ZM192.16 521.53L199.96 525.83L192.16 530.13ZM195.78 520.81L203.58 525.11L195.78 529.41ZM199.4 519.95L207.2 524.25L199.4 528.55ZM203.02 518.96L210.82 523.26L203.02 527.56ZM206.64 517.85L214.44 522.15L206.64 526.45ZM210.25 516.62L218.05 520.92L210.25 525.22ZM213.87 515.27L221.67 519.57L213.87 523.87ZM217.49 513.82L225.29 518.12L217.49 522.42ZM221.11 512.27L228.91 516.57L221.11 520.87ZM224.73 510.61L232.53 514.91L224.73 519.21ZM228.35 508.86L236.15 513.16L228.35 517.46ZM231.97 507L239.77 511.3L231.97 515.6ZM235.59 505.06L243.39 509.36L235.59 513.66ZM239.21 503.02L247.01 507.32L239.21 511.62ZM242.83 500.9L250.63 505.2L242.83 509.5ZM246.45 498.69L254.25 502.99L246.45 507.29ZM250.07 496.4L257.87 500.7L250.07 505ZM253.69 494.03L261.49 498.33L253.69 502.63ZM257.31 491.62L265.11 495.92L257.31 500.22ZM260.93 489.22L268.73 493.52L260.93 497.82ZM264.55 486.92L272.35 491.22L264.55 495.52ZM268.17 484.79L275.97 489.09L268.17 493.39ZM271.79 482.91L279.59 487.21L271.79 491.51ZM275.41 481.32L283.21 485.62L275.41 489.92ZM279.03 480L286.83 484.3L279.03 488.6ZM282.65 478.92L290.45 483.22L282.65 487.52ZM286.27 478.02L294.07 482.32L286.27 486.62ZM289.89 477.29L297.69 481.59L289.89 485.89ZM293.51 476.68L301.31 480.98L293.51 485.28ZM297.13 476.2L304.93 480.5L297.13 484.8ZM300.75 475.87L308.55 480.17L300.75 484.47ZM304.37 475.68L312.17 479.98L304.37 484.28ZM307.99 475.66L315.79 479.96L307.99 484.26ZM311.61 475.8L319.41 480.1L311.61 484.4ZM315.23 476.13L323.03 480.43L315.23 484.73ZM318.85 476.65L326.65 480.95L318.85 485.25ZM322.47 477.37L330.27 481.67L322.47 485.97ZM326.09 478.3L333.89 482.6L326.09 486.9ZM329.71 479.45L337.51 483.75L329.71 488.05ZM333.33 480.81L341.13 485.11L333.33 489.41ZM336.95 482.34L344.75 486.64L336.95 490.94ZM340.57 484.03L348.37 488.33L340.57 492.63ZM344.19 485.85L351.99 490.15L344.19 494.45ZM347.81 487.78L355.61 492.08L347.81 496.38ZM351.43 489.79L359.23 494.09L351.43 498.39ZM355.05 491.85L362.85 496.15L355.05 500.45ZM358.67 493.95L366.47 498.25L358.67 502.55ZM362.29 496.05L370.09 500.35L362.29 504.65ZM365.91 498.13L373.71 502.43L365.91 506.73ZM369.53 500.18L377.33 504.48L369.53 508.78ZM373.15 502.2L380.95 506.5L373.15 510.8ZM376.77 504.17L384.57 508.47L376.77 512.77ZM380.39 506.09L388.19 510.39L380.39 514.69ZM384.01 507.95L391.81 512.25L384.01 516.55ZM387.63 509.76L395.43 514.06L387.63 518.36ZM391.25 511.49L399.05 515.79L391.25 520.09ZM394.87 513.16L402.67 517.46L394.87 521.76ZM398.49 514.74L406.29 519.04L398.49 523.34ZM402.11 516.24L409.91 520.54L402.11 524.84ZM405.73 517.66L413.53 521.96L405.73 526.26ZM409.35 518.97L417.15 523.27L409.35 527.57ZM412.97 520.19L420.77 524.49L412.97 528.79ZM416.59 521.3L424.39 525.6L416.59 529.9ZM420.21 522.3L428.01 526.6L420.21 530.9ZM423.83 523.18L431.63 527.48L423.83 531.78ZM427.45 523.94L435.25 528.24L427.45 532.54ZM431.07 524.57L438.87 528.87L431.07 533.17ZM434.69 525.06L442.49 529.36L434.69 533.66ZM438.31 525.42L446.11 529.72L438.31 534.02ZM441.93 525.63L449.73 529.93L441.93 534.23ZM445.55 525.68L453.35 529.98L445.55 534.28ZM449.17 525.59L456.97 529.89L449.17 534.19ZM452.79 525.35L460.59 529.65L452.79 533.95ZM456.41 524.98L464.21 529.28L456.41 533.58ZM460.03 524.48L467.83 528.78L460.03 533.08ZM463.65 523.87L471.45 528.17L463.65 532.47ZM467.27 523.15L475.07 527.45L467.27 531.75ZM470.89 522.34L478.69 526.64L470.89 530.94ZM474.51 521.44L482.31 525.74L474.51 530.04ZM478.13 520.46L485.93 524.76L478.13 529.06ZM481.75 519.41L489.55 523.71L481.75 528.01ZM485.37 518.31L493.17 522.61L485.37 526.91ZM488.99 517.16L496.79 521.46L488.99 525.76ZM492.61 515.97L500.41 520.27L492.61 524.57ZM496.23 514.75L504.03 519.05L496.23 523.35ZM499.85 513.51L507.65 517.81L499.85 522.11ZM503.47 512.26L511.27 516.56L503.47 520.86ZM507.09 511.01L514.89 515.31L507.09 519.61ZM510.71 509.77L518.51 514.07L510.71 518.37ZM514.33 508.55L522.13 512.85L514.33 517.15ZM517.95 507.35L525.75 511.65L517.95 515.95ZM521.56 506.19L529.36 510.49L521.56 514.79ZM525.18 505.08L532.98 509.38L525.18 513.68ZM528.8 504.02L536.6 508.32L528.8 512.62ZM532.42 503.03L540.22 507.33L532.42 511.63ZM536.04 502.11L543.84 506.41L536.04 510.71ZM539.66 501.27L547.46 505.57L539.66 509.87ZM543.28 500.52L551.08 504.82L543.28 509.12ZM546.9 499.87L554.7 504.17L546.9 508.47ZM550.52 499.32L558.32 503.62L550.52 507.92ZM554.14 498.9L561.94 503.2L554.14 507.5ZM557.76 498.6L565.56 502.9L557.76 507.2ZM561.38 498.43L569.18 502.73L561.38 507.03ZM565 498.41L572.8 502.71L565 507.01ZM568.62 498.53L576.42 502.83L568.62 507.13ZM572.24 498.77L580.04 503.07L572.24 507.37ZM575.86 499.14L583.66 503.44L575.86 507.74ZM579.48 499.62L587.28 503.92L579.48 508.22ZM583.1 500.2L590.9 504.5L583.1 508.8ZM586.72 500.88L594.52 505.18L586.72 509.48ZM590.34 501.65L598.14 505.95L590.34 510.25ZM593.96 502.49L601.76 506.79L593.96 511.09ZM597.58 503.41L605.38 507.71L597.58 512.01ZM601.2 504.39L609 508.69L601.2 512.99ZM604.82 505.42L612.62 509.72L604.82 514.02ZM608.44 506.5L616.24 510.8L608.44 515.1ZM612.06 507.63L619.86 511.93L612.06 516.23ZM615.68 508.79L623.48 513.09L615.68 517.39ZM619.3 509.99L627.1 514.29L619.3 518.59ZM622.92 511.22L630.72 515.52L622.92 519.82ZM626.54 512.48L634.34 516.78L626.54 521.08ZM630.16 513.75L637.96 518.05L630.16 522.35ZM633.78 515.04L641.58 519.34L633.78 523.64ZM637.4 516.33L645.2 520.63L637.4 524.93ZM641.02 517.63L648.82 521.93L641.02 526.23ZM644.64 518.93L652.44 523.23L644.64 527.53ZM648.26 520.23L656.06 524.53L648.26 528.83ZM651.88 521.51L659.68 525.81L651.88 530.11ZM655.5 522.78L663.3 527.08L655.5 531.38ZM659.12 524.02L666.92 528.32L659.12 532.62ZM662.74 525.24L670.54 529.54L662.74 533.84ZM666.36 526.42L674.16 530.72L666.36 535.02ZM669.98 527.57L677.78 531.87L669.98 536.17ZM673.6 528.68L681.4 532.98L673.6 537.28Z" fill="none" stroke="#00f" stroke-width="0.85"/><path d="M55.5 446.75h6v6h-6ZM67.88 440.06h6v6h-6ZM80.26 433.38h6v6h-6ZM92.64 426.69h6v6h-6ZM105.02 420.01h6v6h-6ZM117.4 413.32h6v6h-6ZM129.78 406.64h6v6h-6ZM142.16 399.95h6v6h-6ZM154.54 393.27h6v6h-6ZM166.92 386.58h6v6h-6ZM179.3 379.9h6v6h-6ZM191.68 386.58h6v6h-6ZM204.06 393.27h6v6h-6ZM216.44 399.95h6v6h-6ZM228.82 406.64h6v6h-6ZM241.2 413.32h6v6h-6ZM253.58 420.01h6v6h-6ZM265.96 426.69h6v6h-6ZM278.34 433.38h6v6h-6ZM290.72 440.06h6v6h-6ZM303.1 446.75h6v6h-6Z" fill="#f0f"/><path d="M55.8 447.05h5.4v5.4h-5.4ZM68.18 453.51h5.4v5.4h-5.4ZM80.56 459.98h5.4v5.4h-5.4ZM92.94 466.44h5.4v5.4h-5.4ZM105.32 472.91h5.4v5.4h-5.4ZM117.7 479.38h5.4v5.4h-5.4ZM130.08 485.84h5.4v5.4h-5.4ZM142.46 492.31h5.4v5.4h-5.4ZM154.84 498.77h5.4v5.4h-5.4ZM167.22 505.24h5.4v5.4h-5.4ZM179.6 511.7h5.4v5.4h-5.4ZM191.98 505.23h5.4v5.4h-5.4ZM204.36 498.77h5.4v5.4h-5.4ZM216.74 492.31h5.4v5.4h-5.4ZM229.12 485.84h5.4v5.4h-5.4ZM241.5 479.38h5.4v5.4h-5.4ZM253.88 472.91h5.4v5.4h-5.4ZM266.26 466.44h5.4v5.4h-5.4ZM278.64 459.98h5.4v5.4h-5.4ZM291.02 453.51h5.4v5.4h-5.4ZM303.4 447.05h5.4v5.4h-5.4Z" fill="none" stroke="#f0f" stroke-width="0.9"/><path d="M58.5 445.55L57.27 447.63L54.86 447.65L56.05 449.75L54.86 451.85L57.27 451.87L58.5 453.95L59.73 451.87L62.14 451.85L60.95 449.75L62.14 447.65L59.73 447.63ZM70.88 440.4L69.66 442.48L67.24 442.5L68.43 444.6L67.24 446.7L69.66 446.72L70.88 448.8L72.1 446.72L74.52 446.7L73.33 444.6L74.52 442.5L72.1 442.48ZM83.26 432.5L82.04 434.58L79.62 434.6L80.81 436.7L79.62 438.8L82.04 438.82L83.26 440.9L84.48 438.82L86.9 438.8L85.71 436.7L86.9 434.6L84.49 434.58ZM95.64 422.4L94.42 424.48L92 424.5L93.19 426.6L92 428.7L94.42 428.72L95.64 430.8L96.87 428.72L99.28 428.7L98.09 426.6L99.28 424.5L96.87 424.48ZM108.02 411.4L106.8 413.48L104.38 413.5L105.57 415.6L104.38 417.7L106.8 417.72L108.02 419.8L109.25 417.72L111.66 417.7L110.47 415.6L111.66 413.5L109.25 413.48ZM120.4 400.7L119.18 402.78L116.76 402.8L117.95 404.9L116.76 407L119.18 407.02L120.4 409.1L121.62 407.02L124.04 407L122.85 404.9L124.04 402.8L121.62 402.78ZM132.78 390.4L131.56 392.48L129.14 392.5L130.33 394.6L129.14 396.7L131.56 396.72L132.78 398.8L134.01 396.72L136.42 396.7L135.23 394.6L136.42 392.5L134.01 392.48ZM145.16 382.2L143.94 384.28L141.52 384.3L142.71 386.4L141.52 388.5L143.94 388.52L145.16 390.6L146.39 388.52L148.8 388.5L147.61 386.4L148.8 384.3L146.39 384.28ZM157.54 375.7L156.32 377.78L153.9 377.8L155.09 379.9L153.9 382L156.32 382.02L157.54 384.1L158.77 382.02L161.18 382L159.99 379.9L161.18 377.8L158.77 377.78ZM169.92 371.5L168.7 373.58L166.28 373.6L167.47 375.7L166.28 377.8L168.7 377.82L169.92 379.9L171.15 377.82L173.56 377.8L172.37 375.7L173.56 373.6L171.15 373.58ZM182.3 370.3L181.08 372.38L178.66 372.4L179.85 374.5L178.66 376.6L181.08 376.62L182.3 378.7L183.53 376.62L185.94 376.6L184.75 374.5L185.94 372.4L183.53 372.38ZM194.68 371.5L193.46 373.58L191.04 373.6L192.23 375.7L191.04 377.8L193.46 377.82L194.68 379.9L195.91 377.82L198.32 377.8L197.13 375.7L198.32 373.6L195.91 373.58ZM207.06 375.7L205.84 377.78L203.42 377.8L204.61 379.9L203.42 382L205.84 382.02L207.06 384.1L208.29 382.02L210.7 382L209.51 379.9L210.7 377.8L208.29 377.78Z" fill="#f00"/><path d="M58.5 445.7L57.4 447.59L55.21 447.6L56.3 449.5L55.21 451.4L57.4 451.41L58.5 453.3L59.6 451.41L61.79 451.4L60.7 449.5L61.79 447.6L59.6 447.59ZM70.88 451.8L69.78 453.69L67.59 453.7L68.68 455.6L67.59 457.5L69.78 457.51L70.88 459.4L71.98 457.51L74.17 457.5L73.08 455.6L74.17 453.7L71.98 453.69ZM83.26 460.4L82.16 462.29L79.97 462.3L81.06 464.2L79.97 466.1L82.16 466.11L83.26 468L84.36 466.11L86.55 466.1L85.46 464.2L86.55 462.3L84.36 462.29ZM95.64 472.8L94.54 474.69L92.35 474.7L93.44 476.6L92.35 478.5L94.54 478.51L95.64 480.4L96.74 478.51L98.93 478.5L97.84 476.6L98.93 474.7L96.74 474.69ZM108.02 485.6L106.92 487.49L104.73 487.5L105.82 489.4L104.73 491.3L106.92 491.31L108.02 493.2L109.12 491.31L111.31 491.3L110.22 489.4L111.31 487.5L109.12 487.49ZM120.4 498.5L119.3 500.39L117.11 500.4L118.2 502.3L117.11 504.2L119.3 504.21L120.4 506.1L121.5 504.21L123.69 504.2L122.6 502.3L123.69 500.4L121.5 500.39ZM132.78 510.2L131.68 512.09L129.49 512.1L130.58 514L129.49 515.9L131.68 515.91L132.78 517.8L133.88 515.91L136.07 515.9L134.98 514L136.07 512.1L133.88 512.09ZM145.16 520.7L144.06 522.59L141.87 522.6L142.96 524.5L141.87 526.4L144.06 526.41L145.16 528.3L146.26 526.41L148.45 526.4L147.36 524.5L148.45 522.6L146.26 522.59ZM157.54 528.8L156.44 530.69L154.25 530.7L155.34 532.6L154.25 534.5L156.44 534.51L157.54 536.4L158.64 534.51L160.83 534.5L159.74 532.6L160.83 530.7L158.64 530.69ZM169.92 533.3L168.82 535.19L166.63 535.2L167.72 537.1L166.63 539L168.82 539.01L169.92 540.9L171.02 539.01L173.21 539L172.12 537.1L173.21 535.2L171.02 535.19ZM182.3 535.2L181.2 537.09L179.01 537.1L180.1 539L179.01 540.9L181.2 540.91L182.3 542.8L183.4 540.91L185.59 540.9L184.5 539L185.59 537.1L183.4 537.09ZM194.68 533.3L193.58 535.19L191.39 535.2L192.48 537.1L191.39 539L193.58 539.01L194.68 540.9L195.78 539.01L197.97 539L196.88 537.1L197.97 535.2L195.78 535.19ZM207.06 528.8L205.96 530.69L203.77 530.7L204.86 532.6L203.77 534.5L205.96 534.51L207.06 536.4L208.16 534.51L210.35 534.5L209.26 532.6L210.35 530.7L208.16 530.69Z" fill="none" stroke="#f00" stroke-width="0.8"/><g style="font-size:14.5px" fill="#2b2b2b"><text x="52.4" y="328.55" text-anchor="end">1.15</text><text x="52.4" y="370.15" text-anchor="end">1.1</text><text x="52.4" y="411.75" text-anchor="end">1.05</text><text x="52.4" y="453.35" text-anchor="end">1</text><text x="52.4" y="494.95" text-anchor="end">0.95</text><text x="52.4" y="536.55" text-anchor="end">0.9</text><text x="52.4" y="578.15" text-anchor="end">0.85</text><text x="58.5" y="592.75" text-anchor="middle">0</text><text x="120.4" y="592.75" text-anchor="middle">0.5</text><text x="182.3" y="592.75" text-anchor="middle">1</text><text x="244.2" y="592.75" text-anchor="middle">1.5</text><text x="306.1" y="592.75" text-anchor="middle">2</text><text x="368" y="592.75" text-anchor="middle">2.5</text><text x="429.9" y="592.75" text-anchor="middle">3</text><text x="491.8" y="592.75" text-anchor="middle">3.5</text><text x="553.7" y="592.75" text-anchor="middle">4</text><text x="615.6" y="592.75" text-anchor="middle">4.5</text><text x="677.5" y="592.75" text-anchor="middle">5</text></g><text x="357.87" y="318.35" textLength="19.36" lengthAdjust="spacingAndGlyphs" style="font-size:17.80px" >(b)</text><g fill="#111"><text x="553.21" y="349.35" textLength="12.92" lengthAdjust="spacingAndGlyphs" style="font-size:15.50px;font-style:italic" >Q</text><text x="569.68" y="348.15" textLength="12.73" lengthAdjust="spacingAndGlyphs" style="font-size:15.50px" >=</text><text x="585.99" y="349.35" textLength="28.07" lengthAdjust="spacingAndGlyphs" style="font-size:15.00px" >0.07</text><text x="619.96" y="349.35" textLength="12.70" lengthAdjust="spacingAndGlyphs" style="font-size:15.00px" >m</text><text x="632.34" y="343.75" textLength="5.81" lengthAdjust="spacingAndGlyphs" style="font-size:10.20px" >3</text><text x="639.40" y="349.35" textLength="5.70" lengthAdjust="spacingAndGlyphs" style="font-size:15.50px" >/</text><text x="646.15" y="349.35" textLength="7.11" lengthAdjust="spacingAndGlyphs" style="font-size:15.00px" >s</text></g><g transform="translate(15.7 0) rotate(-90)" fill="#2b2b2b"><text x="-468.01" y="0.00" textLength="9.83" lengthAdjust="spacingAndGlyphs" style="font-size:16.50px;font-style:italic" >h</text><text x="-457.30" y="1.60" textLength="7.40" lengthAdjust="spacingAndGlyphs" style="font-size:20.50px" >/</text><text x="-448.46" y="0.00" textLength="9.12" lengthAdjust="spacingAndGlyphs" style="font-size:16.50px;font-style:italic" >h</text><text x="-439.29" y="3.00" textLength="6.49" lengthAdjust="spacingAndGlyphs" style="font-size:11.50px" >0</text></g></g>
<g><path d="M120.4 628.55V878.15M182.3 628.55V878.15M244.2 628.55V878.15M306.1 628.55V878.15M368 628.55V878.15M429.9 628.55V878.15M491.8 628.55V878.15M553.7 628.55V878.15M615.6 628.55V878.15M58.5 670.15H677.5M58.5 711.75H677.5M58.5 753.35H677.5M58.5 794.95H677.5M58.5 836.55H677.5" stroke="#e5e5e5" stroke-width="0.9" fill="none"/><path d="M58.5 878.15v-6.2M58.5 628.55v6.2M120.4 878.15v-6.2M120.4 628.55v6.2M182.3 878.15v-6.2M182.3 628.55v6.2M244.2 878.15v-6.2M244.2 628.55v6.2M306.1 878.15v-6.2M306.1 628.55v6.2M368 878.15v-6.2M368 628.55v6.2M429.9 878.15v-6.2M429.9 628.55v6.2M491.8 878.15v-6.2M491.8 628.55v6.2M553.7 878.15v-6.2M553.7 628.55v6.2M615.6 878.15v-6.2M615.6 628.55v6.2M677.5 878.15v-6.2M677.5 628.55v6.2M58.5 628.55h6.2M677.5 628.55h-6.2M58.5 670.15h6.2M677.5 670.15h-6.2M58.5 711.75h6.2M677.5 711.75h-6.2M58.5 753.35h6.2M677.5 753.35h-6.2M58.5 794.95h6.2M677.5 794.95h-6.2M58.5 836.55h6.2M677.5 836.55h-6.2M58.5 878.15h6.2M677.5 878.15h-6.2" stroke="#6a6a6a" stroke-width="1" fill="none"/><rect x="58.5" y="628.55" width="619" height="249.6" fill="none" stroke="#6a6a6a" stroke-width="1"/><path d="M58.5 742.6V752.6M53.2 742.6H63.8M53.2 752.6H63.8M76.19 732.8V742.8M70.89 732.8H81.49M70.89 742.8H81.49M93.87 723.9V733.9M88.57 723.9H99.17M88.57 733.9H99.17M111.56 694.2V704.2M106.26 694.2H116.86M106.26 704.2H116.86M129.24 675.6V685.6M123.94 675.6H134.54M123.94 685.6H134.54M146.93 656.4V666.4M141.63 656.4H152.23M141.63 666.4H152.23M164.61 647.1V657.1M159.31 647.1H169.91M159.31 657.1H169.91M182.3 638.7V648.7M177 638.7H187.6M177 648.7H187.6M199.99 647.3V657.3M194.69 647.3H205.29M194.69 657.3H205.29M217.67 656.9V666.9M212.37 656.9H222.97M212.37 666.9H222.97M235.36 681.4V691.4M230.06 681.4H240.66M230.06 691.4H240.66M253.04 700.1V710.1M247.74 700.1H258.34M247.74 710.1H258.34M270.73 718.8V728.8M265.43 718.8H276.03M265.43 728.8H276.03M288.41 729.3V739.3M283.11 729.3H293.71M283.11 739.3H293.71M297.26 734V744M291.96 734H302.56M291.96 744H302.56M306.1 729.3V739.3M300.8 729.3H311.4M300.8 739.3H311.4M323.79 718.8V728.8M318.49 718.8H329.09M318.49 728.8H329.09M341.47 700.1V710.1M336.17 700.1H346.77M336.17 710.1H346.77M359.16 681.2V691.2M353.86 681.2H364.46M353.86 691.2H364.46M376.84 666.9V676.9M371.54 666.9H382.14M371.54 676.9H382.14M394.53 648V658M389.23 648H399.83M389.23 658H399.83M412.21 643.3V653.3M406.91 643.3H417.51M406.91 653.3H417.51M421.06 643.3V653.3M415.76 643.3H426.36M415.76 653.3H426.36M429.9 643.3V653.3M424.6 643.3H435.2M424.6 653.3H435.2M447.59 648V658M442.29 648H452.89M442.29 658H452.89M465.27 662.2V672.2M459.97 662.2H470.57M459.97 672.2H470.57M482.96 676.8V686.8M477.66 676.8H488.26M477.66 686.8H488.26M500.64 686.5V696.5M495.34 686.5H505.94M495.34 696.5H505.94M518.33 701.4V711.4M513.03 701.4H523.63M513.03 711.4H523.63M536.01 714.9V724.9M530.71 714.9H541.31M530.71 724.9H541.31M544.86 719.7V729.7M539.56 719.7H550.16M539.56 729.7H550.16M553.7 724.8V734.8M548.4 724.8H559M548.4 734.8H559M76.19 757.2V767.2M70.89 757.2H81.49M70.89 767.2H81.49M93.87 771.9V781.9M88.57 771.9H99.17M88.57 781.9H99.17M111.56 785.9V795.9M106.26 785.9H116.86M106.26 795.9H116.86M129.24 805.1V815.1M123.94 805.1H134.54M123.94 815.1H134.54M146.93 814.4V824.4M141.63 814.4H152.23M141.63 824.4H152.23M164.61 824.2V834.2M159.31 824.2H169.91M159.31 834.2H169.91M182.3 828.4V838.4M177 828.4H187.6M177 838.4H187.6M199.99 824.2V834.2M194.69 824.2H205.29M194.69 834.2H205.29M217.67 814.9V824.9M212.37 814.9H222.97M212.37 824.9H222.97M235.36 805.1V815.1M230.06 805.1H240.66M230.06 815.1H240.66M253.04 785.9V795.9M247.74 785.9H258.34M247.74 795.9H258.34M270.73 767.2V777.2M265.43 767.2H276.03M265.43 777.2H276.03M288.41 752.6V762.6M283.11 752.6H293.71M283.11 762.6H293.71M306.1 748.2V758.2M300.8 748.2H311.4M300.8 758.2H311.4M323.79 761.5V771.5M318.49 761.5H329.09M318.49 771.5H329.09M341.47 786.2V796.2M336.17 786.2H346.77M336.17 796.2H346.77M359.16 805.1V815.1M353.86 805.1H364.46M353.86 815.1H364.46M376.84 814.9V824.9M371.54 814.9H382.14M371.54 824.9H382.14M394.53 824.2V834.2M389.23 824.2H399.83M389.23 834.2H399.83M412.21 828.9V838.9M406.91 828.9H417.51M406.91 838.9H417.51M421.06 828.9V838.9M415.76 828.9H426.36M415.76 838.9H426.36M429.9 823.8V833.8M424.6 823.8H435.2M424.6 833.8H435.2M447.59 819.1V829.1M442.29 819.1H452.89M442.29 829.1H452.89M465.27 809.7V819.7M459.97 809.7H470.57M459.97 819.7H470.57M482.96 791V801M477.66 791H488.26M477.66 801H488.26M500.64 767.1V777.1M495.34 767.1H505.94M495.34 777.1H505.94M518.33 753.1V763.1M513.03 753.1H523.63M513.03 763.1H523.63M536.01 743.4V753.4M530.71 743.4H541.31M530.71 753.4H541.31" stroke="#000" stroke-width="1" fill="none"/><g fill="#000"><circle cx="58.5" cy="747.6" r="3.95"/><circle cx="76.19" cy="737.8" r="3.95"/><circle cx="93.87" cy="728.9" r="3.95"/><circle cx="111.56" cy="699.2" r="3.95"/><circle cx="129.24" cy="680.6" r="3.95"/><circle cx="146.93" cy="661.4" r="3.95"/><circle cx="164.61" cy="652.1" r="3.95"/><circle cx="182.3" cy="643.7" r="3.95"/><circle cx="199.99" cy="652.3" r="3.95"/><circle cx="217.67" cy="661.9" r="3.95"/><circle cx="235.36" cy="686.4" r="3.95"/><circle cx="253.04" cy="705.1" r="3.95"/><circle cx="270.73" cy="723.8" r="3.95"/><circle cx="288.41" cy="734.3" r="3.95"/><circle cx="297.26" cy="739" r="3.95"/><circle cx="306.1" cy="734.3" r="3.95"/><circle cx="323.79" cy="723.8" r="3.95"/><circle cx="341.47" cy="705.1" r="3.95"/><circle cx="359.16" cy="686.2" r="3.95"/><circle cx="376.84" cy="671.9" r="3.95"/><circle cx="394.53" cy="653" r="3.95"/><circle cx="412.21" cy="648.3" r="3.95"/><circle cx="421.06" cy="648.3" r="3.95"/><circle cx="429.9" cy="648.3" r="3.95"/><circle cx="447.59" cy="653" r="3.95"/><circle cx="465.27" cy="667.2" r="3.95"/><circle cx="482.96" cy="681.8" r="3.95"/><circle cx="500.64" cy="691.5" r="3.95"/><circle cx="518.33" cy="706.4" r="3.95"/><circle cx="536.01" cy="719.9" r="3.95"/><circle cx="544.86" cy="724.7" r="3.95"/><circle cx="553.7" cy="729.8" r="3.95"/></g><g fill="none" stroke="#000" stroke-width="0.9"><circle cx="76.19" cy="762.2" r="3.9"/><circle cx="93.87" cy="776.9" r="3.9"/><circle cx="111.56" cy="790.9" r="3.9"/><circle cx="129.24" cy="810.1" r="3.9"/><circle cx="146.93" cy="819.4" r="3.9"/><circle cx="164.61" cy="829.2" r="3.9"/><circle cx="182.3" cy="833.4" r="3.9"/><circle cx="199.99" cy="829.2" r="3.9"/><circle cx="217.67" cy="819.9" r="3.9"/><circle cx="235.36" cy="810.1" r="3.9"/><circle cx="253.04" cy="790.9" r="3.9"/><circle cx="270.73" cy="772.2" r="3.9"/><circle cx="288.41" cy="757.6" r="3.9"/><circle cx="306.1" cy="753.2" r="3.9"/><circle cx="323.79" cy="766.5" r="3.9"/><circle cx="341.47" cy="791.2" r="3.9"/><circle cx="359.16" cy="810.1" r="3.9"/><circle cx="376.84" cy="819.9" r="3.9"/><circle cx="394.53" cy="829.2" r="3.9"/><circle cx="412.21" cy="833.9" r="3.9"/><circle cx="421.06" cy="833.9" r="3.9"/><circle cx="429.9" cy="828.8" r="3.9"/><circle cx="447.59" cy="824.1" r="3.9"/><circle cx="465.27" cy="814.7" r="3.9"/><circle cx="482.96" cy="796" r="3.9"/><circle cx="500.64" cy="772.1" r="3.9"/><circle cx="518.33" cy="758.1" r="3.9"/><circle cx="536.01" cy="748.4" r="3.9"/></g><path d="M54.6 746.97L62.4 751.27L54.6 755.57ZM57.55 747.07L65.35 751.37L57.55 755.67ZM60.5 746.58L68.3 750.88L60.5 755.18ZM63.44 745.57L71.24 749.87L63.44 754.17ZM66.39 744.07L74.19 748.37L66.39 752.67ZM69.34 742.14L77.14 746.44L69.34 750.74ZM72.29 739.82L80.09 744.12L72.29 748.42ZM75.23 737.15L83.03 741.45L75.23 745.75ZM78.18 734.19L85.98 738.49L78.18 742.79ZM81.13 730.98L88.93 735.28L81.13 739.58ZM84.08 727.56L91.88 731.86L84.08 736.16ZM87.02 723.99L94.82 728.29L87.02 732.59ZM89.97 720.31L97.77 724.61L89.97 728.91ZM92.92 716.56L100.72 720.86L92.92 725.16ZM95.87 712.8L103.67 717.1L95.87 721.4ZM98.81 709.07L106.61 713.37L98.81 717.67ZM101.76 705.39L109.56 709.69L101.76 713.99ZM104.71 701.79L112.51 706.09L104.71 710.39ZM107.66 698.26L115.46 702.56L107.66 706.86ZM110.6 694.81L118.4 699.11L110.6 703.41ZM113.55 691.45L121.35 695.75L113.55 700.05ZM116.5 688.19L124.3 692.49L116.5 696.79ZM119.45 685.02L127.25 689.32L119.45 693.62ZM122.4 681.95L130.2 686.25L122.4 690.55ZM125.34 679L133.14 683.3L125.34 687.6ZM128.29 676.16L136.09 680.46L128.29 684.76ZM131.24 673.44L139.04 677.74L131.24 682.04ZM134.19 670.86L141.99 675.16L134.19 679.46ZM137.13 668.4L144.93 672.7L137.13 677ZM140.08 666.08L147.88 670.38L140.08 674.68ZM143.03 663.91L150.83 668.21L143.03 672.51ZM145.98 661.88L153.78 666.18L145.98 670.48ZM148.92 660L156.72 664.3L148.92 668.6ZM151.87 658.27L159.67 662.57L151.87 666.87ZM154.82 656.71L162.62 661.01L154.82 665.31ZM157.77 655.31L165.57 659.61L157.77 663.91ZM160.71 654.07L168.51 658.37L160.71 662.67ZM163.66 653.01L171.46 657.31L163.66 661.61ZM166.61 652.12L174.41 656.42L166.61 660.72ZM169.56 651.41L177.36 655.71L169.56 660.01ZM172.5 650.89L180.3 655.19L172.5 659.49ZM175.45 650.55L183.25 654.85L175.45 659.15ZM178.4 650.39L186.2 654.69L178.4 658.99ZM181.35 650.42L189.15 654.72L181.35 659.02ZM184.3 650.62L192.1 654.92L184.3 659.22ZM187.24 650.99L195.04 655.29L187.24 659.59ZM190.19 651.53L197.99 655.83L190.19 660.13ZM193.14 652.24L200.94 656.54L193.14 660.84ZM196.09 653.11L203.89 657.41L196.09 661.71ZM199.03 654.13L206.83 658.43L199.03 662.73ZM201.98 655.3L209.78 659.6L201.98 663.9ZM204.93 656.63L212.73 660.93L204.93 665.23ZM207.88 658.1L215.68 662.4L207.88 666.7ZM210.82 659.71L218.62 664.01L210.82 668.31ZM213.77 661.46L221.57 665.76L213.77 670.06ZM216.72 663.32L224.52 667.62L216.72 671.92ZM219.67 665.3L227.47 669.6L219.67 673.9ZM222.61 667.38L230.41 671.68L222.61 675.98ZM225.56 669.55L233.36 673.85L225.56 678.15ZM228.51 671.79L236.31 676.09L228.51 680.39ZM231.46 674.1L239.26 678.4L231.46 682.7ZM234.4 676.47L242.2 680.77L234.4 685.07ZM237.35 678.87L245.15 683.17L237.35 687.47ZM240.3 681.31L248.1 685.61L240.3 689.91ZM243.25 683.77L251.05 688.07L243.25 692.37ZM246.2 686.24L254 690.54L246.2 694.84ZM249.14 688.7L256.94 693L249.14 697.3ZM252.09 691.16L259.89 695.46L252.09 699.76ZM255.04 693.58L262.84 697.88L255.04 702.18ZM257.99 695.97L265.79 700.27L257.99 704.57ZM260.93 698.32L268.73 702.62L260.93 706.92ZM263.88 700.62L271.68 704.92L263.88 709.22ZM266.83 702.85L274.63 707.15L266.83 711.45ZM269.78 705.02L277.58 709.32L269.78 713.62ZM272.72 707.1L280.52 711.4L272.72 715.7ZM275.67 709.1L283.47 713.4L275.67 717.7ZM278.62 711L286.42 715.3L278.62 719.6ZM281.57 712.8L289.37 717.1L281.57 721.4ZM284.51 714.48L292.31 718.78L284.51 723.08ZM287.46 716.03L295.26 720.33L287.46 724.63ZM290.41 717.46L298.21 721.76L290.41 726.06ZM293.36 718.74L301.16 723.04L293.36 727.34ZM296.3 719.89L304.1 724.19L296.3 728.49ZM299.25 720.9L307.05 725.2L299.25 729.5ZM302.2 721.76L310 726.06L302.2 730.36ZM305.15 722.49L312.95 726.79L305.15 731.09ZM308.1 723.08L315.9 727.38L308.1 731.68ZM311.04 723.53L318.84 727.83L311.04 732.13ZM313.99 723.83L321.79 728.13L313.99 732.43ZM316.94 724L324.74 728.3L316.94 732.6ZM319.89 724.03L327.69 728.33L319.89 732.63ZM322.83 723.91L330.63 728.21L322.83 732.51ZM325.78 723.66L333.58 727.96L325.78 732.26ZM328.73 723.27L336.53 727.57L328.73 731.87ZM331.68 722.73L339.48 727.03L331.68 731.33ZM334.62 722.06L342.42 726.36L334.62 730.66ZM337.57 721.24L345.37 725.54L337.57 729.84ZM340.52 720.29L348.32 724.59L340.52 728.89ZM343.47 719.19L351.27 723.49L343.47 727.79ZM346.41 717.95L354.21 722.25L346.41 726.55ZM349.36 716.57L357.16 720.87L349.36 725.17ZM352.31 715.05L360.11 719.35L352.31 723.65ZM355.26 713.39L363.06 717.69L355.26 721.99ZM358.2 711.59L366 715.89L358.2 720.19ZM361.15 709.65L368.95 713.95L361.15 718.25ZM364.1 707.57L371.9 711.87L364.1 716.17ZM367.05 705.35L374.85 709.65L367.05 713.95ZM370 703.01L377.8 707.31L370 711.61ZM372.94 700.58L380.74 704.88L372.94 709.18ZM375.89 698.1L383.69 702.4L375.89 706.7ZM378.84 695.57L386.64 699.87L378.84 704.17ZM381.79 693.04L389.59 697.34L381.79 701.64ZM384.73 690.52L392.53 694.82L384.73 699.12ZM387.68 688.05L395.48 692.35L387.68 696.65ZM390.63 685.65L398.43 689.95L390.63 694.25ZM393.58 683.32L401.38 687.62L393.58 691.92ZM396.52 681.06L404.32 685.36L396.52 689.66ZM399.47 678.88L407.27 683.18L399.47 687.48ZM402.42 676.77L410.22 681.07L402.42 685.37ZM405.37 674.72L413.17 679.02L405.37 683.32ZM408.31 672.73L416.11 677.03L408.31 681.33ZM411.26 670.8L419.06 675.1L411.26 679.4ZM414.21 668.96L422.01 673.26L414.21 677.56ZM417.16 667.2L424.96 671.5L417.16 675.8ZM420.1 665.56L427.9 669.86L420.1 674.16ZM423.05 664.03L430.85 668.33L423.05 672.63ZM426 662.64L433.8 666.94L426 671.24ZM428.95 661.41L436.75 665.71L428.95 670.01ZM431.9 660.34L439.7 664.64L431.9 668.94ZM434.84 659.45L442.64 663.75L434.84 668.05ZM437.79 658.76L445.59 663.06L437.79 667.36ZM440.74 658.27L448.54 662.57L440.74 666.87ZM443.69 658.02L451.49 662.32L443.69 666.62ZM446.63 658L454.43 662.3L446.63 666.6ZM449.58 658.21L457.38 662.51L449.58 666.81ZM452.53 658.64L460.33 662.94L452.53 667.24ZM455.48 659.27L463.28 663.57L455.48 667.87ZM458.42 660.08L466.22 664.38L458.42 668.68ZM461.37 661.04L469.17 665.34L461.37 669.64ZM464.32 662.16L472.12 666.46L464.32 670.76ZM467.27 663.4L475.07 667.7L467.27 672ZM470.21 664.75L478.01 669.05L470.21 673.35ZM473.16 666.19L480.96 670.49L473.16 674.79ZM476.11 667.7L483.91 672L476.11 676.3ZM479.06 669.28L486.86 673.58L479.06 677.88ZM482 670.89L489.8 675.19L482 679.49ZM484.95 672.53L492.75 676.83L484.95 681.13ZM487.9 674.2L495.7 678.5L487.9 682.8ZM490.85 675.91L498.65 680.21L490.85 684.51ZM493.8 677.66L501.6 681.96L493.8 686.26ZM496.74 679.45L504.54 683.75L496.74 688.05ZM499.69 681.3L507.49 685.6L499.69 689.9ZM502.64 683.21L510.44 687.51L502.64 691.81ZM505.59 685.19L513.39 689.49L505.59 693.79ZM508.53 687.23L516.33 691.53L508.53 695.83ZM511.48 689.35L519.28 693.65L511.48 697.95ZM514.43 691.55L522.23 695.85L514.43 700.15ZM517.38 693.84L525.18 698.14L517.38 702.44ZM520.32 696.23L528.12 700.53L520.32 704.83ZM523.27 698.69L531.07 702.99L523.27 707.29ZM526.22 701.18L534.02 705.48L526.22 709.78ZM529.17 703.68L536.97 707.98L529.17 712.28ZM532.11 706.13L539.91 710.43L532.11 714.73ZM535.06 708.5L542.86 712.8L535.06 717.1ZM538.01 710.74L545.81 715.04L538.01 719.34ZM540.96 712.83L548.76 717.13L540.96 721.43ZM543.9 714.72L551.7 719.02L543.9 723.32ZM546.85 716.37L554.65 720.67L546.85 724.97ZM549.8 717.82L557.6 722.12L549.8 726.42ZM552.75 719.07L560.55 723.37L552.75 727.67ZM555.7 720.15L563.5 724.45L555.7 728.75ZM558.64 721.08L566.44 725.38L558.64 729.68ZM561.59 721.88L569.39 726.18L561.59 730.48ZM564.54 722.56L572.34 726.86L564.54 731.16ZM567.49 723.15L575.29 727.45L567.49 731.75ZM570.43 723.62L578.23 727.92L570.43 732.22ZM573.38 723.98L581.18 728.28L573.38 732.58ZM576.33 724.24L584.13 728.54L576.33 732.84ZM579.28 724.37L587.08 728.67L579.28 732.97ZM582.22 724.4L590.02 728.7L582.22 733ZM585.17 724.31L592.97 728.61L585.17 732.91ZM588.12 724.1L595.92 728.4L588.12 732.7ZM591.07 723.77L598.87 728.07L591.07 732.37ZM594.01 723.32L601.81 727.62L594.01 731.92ZM596.96 722.75L604.76 727.05L596.96 731.35ZM599.91 722.05L607.71 726.35L599.91 730.65ZM602.86 721.23L610.66 725.53L602.86 729.83ZM605.8 720.28L613.6 724.58L605.8 728.88ZM608.75 719.22L616.55 723.52L608.75 727.82ZM611.7 718.05L619.5 722.35L611.7 726.65ZM614.65 716.76L622.45 721.06L614.65 725.36ZM617.6 715.36L625.4 719.66L617.6 723.96ZM620.54 713.87L628.34 718.17L620.54 722.47ZM623.49 712.27L631.29 716.57L623.49 720.87ZM626.44 710.57L634.24 714.87L626.44 719.17ZM629.39 708.79L637.19 713.09L629.39 717.39ZM632.33 706.91L640.13 711.21L632.33 715.51ZM635.28 704.95L643.08 709.25L635.28 713.55ZM638.23 702.9L646.03 707.2L638.23 711.5ZM641.18 700.8L648.98 705.1L641.18 709.4ZM644.12 698.65L651.92 702.95L644.12 707.25ZM647.07 696.5L654.87 700.8L647.07 705.1ZM650.02 694.37L657.82 698.67L650.02 702.97ZM652.97 692.29L660.77 696.59L652.97 700.89ZM655.91 690.28L663.71 694.58L655.91 698.88ZM658.86 688.38L666.66 692.68L658.86 696.98ZM661.81 686.61L669.61 690.91L661.81 695.21ZM664.76 685L672.56 689.3L664.76 693.6ZM667.7 683.58L675.5 687.88L667.7 692.18ZM670.65 682.37L678.45 686.67L670.65 690.97ZM673.6 681.41L681.4 685.71L673.6 690.01Z" fill="#00f"/><path d="M54.6 754.42L62.4 758.72L54.6 763.02ZM57.55 755.37L65.35 759.67L57.55 763.97ZM60.5 756.43L68.3 760.73L60.5 765.03ZM63.44 757.62L71.24 761.92L63.44 766.22ZM66.39 758.94L74.19 763.24L66.39 767.54ZM69.34 760.4L77.14 764.7L69.34 769ZM72.29 762L80.09 766.3L72.29 770.6ZM75.23 763.74L83.03 768.04L75.23 772.34ZM78.18 765.64L85.98 769.94L78.18 774.24ZM81.13 767.7L88.93 772L81.13 776.3ZM84.08 769.92L91.88 774.22L84.08 778.52ZM87.02 772.32L94.82 776.62L87.02 780.92ZM89.97 774.9L97.77 779.2L89.97 783.5ZM92.92 777.66L100.72 781.96L92.92 786.26ZM95.87 780.6L103.67 784.9L95.87 789.2ZM98.81 783.75L106.61 788.05L98.81 792.35ZM101.76 787.08L109.56 791.38L101.76 795.68ZM104.71 790.59L112.51 794.89L104.71 799.19ZM107.66 794.23L115.46 798.53L107.66 802.83ZM110.6 798L118.4 802.3L110.6 806.6ZM113.55 801.85L121.35 806.15L113.55 810.45ZM116.5 805.77L124.3 810.07L116.5 814.37ZM119.45 809.71L127.25 814.01L119.45 818.31ZM122.4 813.53L130.2 817.83L122.4 822.13ZM125.34 817.08L133.14 821.38L125.34 825.68ZM128.29 820.21L136.09 824.51L128.29 828.81ZM131.24 822.78L139.04 827.08L131.24 831.38ZM134.19 824.92L141.99 829.22L134.19 833.52ZM137.13 826.82L144.93 831.12L137.13 835.42ZM140.08 828.57L147.88 832.87L140.08 837.17ZM143.03 830.17L150.83 834.47L143.03 838.77ZM145.98 831.64L153.78 835.94L145.98 840.24ZM148.92 832.97L156.72 837.27L148.92 841.57ZM151.87 834.18L159.67 838.48L151.87 842.78ZM154.82 835.28L162.62 839.58L154.82 843.88ZM157.77 836.26L165.57 840.56L157.77 844.86ZM160.71 837.15L168.51 841.45L160.71 845.75ZM163.66 837.94L171.46 842.24L163.66 846.54ZM166.61 838.64L174.41 842.94L166.61 847.24ZM169.56 839.26L177.36 843.56L169.56 847.86ZM172.5 839.82L180.3 844.12L172.5 848.42ZM175.45 840.29L183.25 844.59L175.45 848.89ZM178.4 840.64L186.2 844.94L178.4 849.24ZM181.35 840.83L189.15 845.13L181.35 849.43ZM184.3 840.81L192.1 845.11L184.3 849.41ZM187.24 840.54L195.04 844.84L187.24 849.14ZM190.19 839.95L197.99 844.25L190.19 848.55ZM193.14 839.03L200.94 843.33L193.14 847.63ZM196.09 837.83L203.89 842.13L196.09 846.43ZM199.03 836.45L206.83 840.75L199.03 845.05ZM201.98 834.99L209.78 839.29L201.98 843.59ZM204.93 833.55L212.73 837.85L204.93 842.15ZM207.88 832.19L215.68 836.49L207.88 840.79ZM210.82 830.93L218.62 835.23L210.82 839.53ZM213.77 829.75L221.57 834.05L213.77 838.35ZM216.72 828.57L224.52 832.87L216.72 837.17ZM219.67 827.34L227.47 831.64L219.67 835.94ZM222.61 825.98L230.41 830.28L222.61 834.58ZM225.56 824.45L233.36 828.75L225.56 833.05ZM228.51 822.76L236.31 827.06L228.51 831.36ZM231.46 820.91L239.26 825.21L231.46 829.51ZM234.4 818.92L242.2 823.22L234.4 827.52ZM237.35 816.81L245.15 821.11L237.35 825.41ZM240.3 814.58L248.1 818.88L240.3 823.18ZM243.25 812.29L251.05 816.59L243.25 820.89ZM246.2 809.95L254 814.25L246.2 818.55ZM249.14 807.59L256.94 811.89L249.14 816.19ZM252.09 805.24L259.89 809.54L252.09 813.84ZM255.04 802.94L262.84 807.24L255.04 811.54ZM257.99 800.68L265.79 804.98L257.99 809.28ZM260.93 798.48L268.73 802.78L260.93 807.08ZM263.88 796.34L271.68 800.64L263.88 804.94ZM266.83 794.27L274.63 798.57L266.83 802.87ZM269.78 792.27L277.58 796.57L269.78 800.87ZM272.72 790.36L280.52 794.66L272.72 798.96ZM275.67 788.53L283.47 792.83L275.67 797.13ZM278.62 786.8L286.42 791.1L278.62 795.4ZM281.57 785.16L289.37 789.46L281.57 793.76ZM284.51 783.63L292.31 787.93L284.51 792.23ZM287.46 782.22L295.26 786.52L287.46 790.82ZM290.41 780.91L298.21 785.21L290.41 789.51ZM293.36 779.74L301.16 784.04L293.36 788.34ZM296.3 778.69L304.1 782.99L296.3 787.29ZM299.25 777.78L307.05 782.08L299.25 786.38ZM302.2 777.02L310 781.32L302.2 785.62ZM305.15 776.41L312.95 780.71L305.15 785.01ZM308.1 775.96L315.9 780.26L308.1 784.56ZM311.04 775.68L318.84 779.98L311.04 784.28ZM313.99 775.57L321.79 779.87L313.99 784.17ZM316.94 775.64L324.74 779.94L316.94 784.24ZM319.89 775.9L327.69 780.2L319.89 784.5ZM322.83 776.36L330.63 780.66L322.83 784.96ZM325.78 777.03L333.58 781.33L325.78 785.63ZM328.73 777.9L336.53 782.2L328.73 786.5ZM331.68 778.97L339.48 783.27L331.68 787.57ZM334.62 780.23L342.42 784.53L334.62 788.83ZM337.57 781.66L345.37 785.96L337.57 790.26ZM340.52 783.23L348.32 787.53L340.52 791.83ZM343.47 784.94L351.27 789.24L343.47 793.54ZM346.41 786.75L354.21 791.05L346.41 795.35ZM349.36 788.66L357.16 792.96L349.36 797.26ZM352.31 790.65L360.11 794.95L352.31 799.25ZM355.26 792.69L363.06 796.99L355.26 801.29ZM358.2 794.77L366 799.07L358.2 803.37ZM361.15 796.87L368.95 801.17L361.15 805.47ZM364.1 798.98L371.9 803.28L364.1 807.58ZM367.05 801.07L374.85 805.37L367.05 809.67ZM370 803.15L377.8 807.45L370 811.75ZM372.94 805.19L380.74 809.49L372.94 813.79ZM375.89 807.21L383.69 811.51L375.89 815.81ZM378.84 809.2L386.64 813.5L378.84 817.8ZM381.79 811.15L389.59 815.45L381.79 819.75ZM384.73 813.05L392.53 817.35L384.73 821.65ZM387.68 814.91L395.48 819.21L387.68 823.51ZM390.63 816.72L398.43 821.02L390.63 825.32ZM393.58 818.47L401.38 822.77L393.58 827.07ZM396.52 820.16L404.32 824.46L396.52 828.76ZM399.47 821.79L407.27 826.09L399.47 830.39ZM402.42 823.35L410.22 827.65L402.42 831.95ZM405.37 824.83L413.17 829.13L405.37 833.43ZM408.31 826.24L416.11 830.54L408.31 834.84ZM411.26 827.56L419.06 831.86L411.26 836.16ZM414.21 828.8L422.01 833.1L414.21 837.4ZM417.16 829.94L424.96 834.24L417.16 838.54ZM420.1 830.99L427.9 835.29L420.1 839.59ZM423.05 831.94L430.85 836.24L423.05 840.54ZM426 832.79L433.8 837.09L426 841.38ZM428.95 833.52L436.75 837.82L428.95 842.12ZM431.9 834.14L439.7 838.44L431.9 842.74ZM434.84 834.64L442.64 838.94L434.84 843.24ZM437.79 835.02L445.59 839.32L437.79 843.62ZM440.74 835.27L448.54 839.57L440.74 843.87ZM443.69 835.39L451.49 839.69L443.69 843.99ZM446.63 835.38L454.43 839.68L446.63 843.98ZM449.58 835.23L457.38 839.53L449.58 843.83ZM452.53 834.95L460.33 839.25L452.53 843.55ZM455.48 834.55L463.28 838.85L455.48 843.15ZM458.42 834.03L466.22 838.33L458.42 842.63ZM461.37 833.4L469.17 837.7L461.37 842ZM464.32 832.66L472.12 836.96L464.32 841.26ZM467.27 831.83L475.07 836.13L467.27 840.43ZM470.21 830.89L478.01 835.19L470.21 839.49ZM473.16 829.87L480.96 834.17L473.16 838.47ZM476.11 828.76L483.91 833.06L476.11 837.36ZM479.06 827.57L486.86 831.87L479.06 836.17ZM482 826.31L489.8 830.61L482 834.91ZM484.95 824.98L492.75 829.28L484.95 833.58ZM487.9 823.59L495.7 827.89L487.9 832.19ZM490.85 822.14L498.65 826.44L490.85 830.74ZM493.8 820.64L501.6 824.94L493.8 829.24ZM496.74 819.1L504.54 823.4L496.74 827.7ZM499.69 817.51L507.49 821.81L499.69 826.11ZM502.64 815.88L510.44 820.18L502.64 824.48ZM505.59 814.23L513.39 818.53L505.59 822.83ZM508.53 812.55L516.33 816.85L508.53 821.15ZM511.48 810.86L519.28 815.16L511.48 819.46ZM514.43 809.15L522.23 813.45L514.43 817.75ZM517.38 807.43L525.18 811.73L517.38 816.03ZM520.32 805.71L528.12 810.01L520.32 814.31ZM523.27 803.99L531.07 808.29L523.27 812.59ZM526.22 802.3L534.02 806.6L526.22 810.9ZM529.17 800.63L536.97 804.93L529.17 809.23ZM532.11 799.01L539.91 803.31L532.11 807.61ZM535.06 797.45L542.86 801.75L535.06 806.05ZM538.01 795.95L545.81 800.25L538.01 804.55ZM540.96 794.54L548.76 798.84L540.96 803.14ZM543.9 793.22L551.7 797.52L543.9 801.82ZM546.85 792L554.65 796.3L546.85 800.6ZM549.8 790.91L557.6 795.21L549.8 799.51ZM552.75 789.95L560.55 794.25L552.75 798.55ZM555.7 789.13L563.5 793.43L555.7 797.73ZM558.64 788.46L566.44 792.76L558.64 797.06ZM561.59 787.97L569.39 792.27L561.59 796.57ZM564.54 787.65L572.34 791.95L564.54 796.25ZM567.49 787.51L575.29 791.81L567.49 796.11ZM570.43 787.53L578.23 791.83L570.43 796.13ZM573.38 787.69L581.18 791.99L573.38 796.29ZM576.33 788L584.13 792.3L576.33 796.6ZM579.28 788.43L587.08 792.73L579.28 797.03ZM582.22 788.97L590.02 793.27L582.22 797.57ZM585.17 789.61L592.97 793.91L585.17 798.21ZM588.12 790.33L595.92 794.63L588.12 798.93ZM591.07 791.13L598.87 795.43L591.07 799.73ZM594.01 792L601.81 796.3L594.01 800.6ZM596.96 792.91L604.76 797.21L596.96 801.51ZM599.91 793.86L607.71 798.16L599.91 802.46ZM602.86 794.84L610.66 799.14L602.86 803.44ZM605.8 795.85L613.6 800.15L605.8 804.45ZM608.75 796.91L616.55 801.21L608.75 805.51ZM611.7 798.01L619.5 802.31L611.7 806.61ZM614.65 799.17L622.45 803.47L614.65 807.77ZM617.6 800.38L625.4 804.68L617.6 808.98ZM620.54 801.66L628.34 805.96L620.54 810.26ZM623.49 803.02L631.29 807.32L623.49 811.62ZM626.44 804.45L634.24 808.75L626.44 813.05ZM629.39 805.97L637.19 810.27L629.39 814.57ZM632.33 807.58L640.13 811.88L632.33 816.18ZM635.28 809.29L643.08 813.59L635.28 817.89ZM638.23 811.09L646.03 815.39L638.23 819.69ZM641.18 812.97L648.98 817.27L641.18 821.57ZM644.12 814.84L651.92 819.14L644.12 823.44ZM647.07 816.66L654.87 820.96L647.07 825.26ZM650.02 818.34L657.82 822.64L650.02 826.94ZM652.97 819.84L660.77 824.14L652.97 828.44ZM655.91 821.07L663.71 825.37L655.91 829.67ZM658.86 822.04L666.66 826.34L658.86 830.64ZM661.81 822.85L669.61 827.15L661.81 831.45ZM664.76 823.57L672.56 827.87L664.76 832.17ZM667.7 824.33L675.5 828.63L667.7 832.93ZM670.65 825.22L678.45 829.52L670.65 833.82ZM673.6 826.34L681.4 830.64L673.6 834.94Z" fill="none" stroke="#00f" stroke-width="0.85"/><path d="M55.5 750.25h6v6h-6ZM67.88 741.92h6v6h-6ZM80.26 733.6h6v6h-6ZM92.64 725.27h6v6h-6ZM105.02 716.95h6v6h-6ZM117.4 708.62h6v6h-6ZM129.78 700.3h6v6h-6ZM142.16 691.98h6v6h-6ZM154.54 683.65h6v6h-6ZM166.92 675.33h6v6h-6ZM179.3 667h6v6h-6ZM191.68 675.33h6v6h-6ZM204.06 683.65h6v6h-6ZM216.44 691.98h6v6h-6ZM228.82 700.3h6v6h-6ZM241.2 708.62h6v6h-6ZM253.58 716.95h6v6h-6ZM265.96 725.27h6v6h-6ZM278.34 733.6h6v6h-6ZM290.72 741.92h6v6h-6ZM303.1 750.25h6v6h-6Z" fill="#f0f"/><path d="M55.8 750.55h5.4v5.4h-5.4ZM68.18 758.56h5.4v5.4h-5.4ZM80.56 766.58h5.4v5.4h-5.4ZM92.94 774.59h5.4v5.4h-5.4ZM105.32 782.61h5.4v5.4h-5.4ZM117.7 790.62h5.4v5.4h-5.4ZM130.08 798.64h5.4v5.4h-5.4ZM142.46 806.65h5.4v5.4h-5.4ZM154.84 814.67h5.4v5.4h-5.4ZM167.22 822.68h5.4v5.4h-5.4ZM179.6 830.7h5.4v5.4h-5.4ZM191.98 822.68h5.4v5.4h-5.4ZM204.36 814.67h5.4v5.4h-5.4ZM216.74 806.65h5.4v5.4h-5.4ZM229.12 798.64h5.4v5.4h-5.4ZM241.5 790.62h5.4v5.4h-5.4ZM253.88 782.61h5.4v5.4h-5.4ZM266.26 774.59h5.4v5.4h-5.4ZM278.64 766.58h5.4v5.4h-5.4ZM291.02 758.56h5.4v5.4h-5.4ZM303.4 750.55h5.4v5.4h-5.4Z" fill="none" stroke="#f0f" stroke-width="0.9"/><path d="M58.5 749.05L57.27 751.13L54.86 751.15L56.05 753.25L54.86 755.35L57.27 755.37L58.5 757.45L59.73 755.37L62.14 755.35L60.95 753.25L62.14 751.15L59.73 751.13ZM70.88 742.9L69.66 744.98L67.24 745L68.43 747.1L67.24 749.2L69.66 749.22L70.88 751.3L72.1 749.22L74.52 749.2L73.33 747.1L74.52 745L72.1 744.98ZM83.26 732.9L82.04 734.98L79.62 735L80.81 737.1L79.62 739.2L82.04 739.22L83.26 741.3L84.48 739.22L86.9 739.2L85.71 737.1L86.9 735L84.49 734.98ZM95.64 721.4L94.42 723.48L92 723.5L93.19 725.6L92 727.7L94.42 727.72L95.64 729.8L96.87 727.72L99.28 727.7L98.09 725.6L99.28 723.5L96.87 723.48ZM108.02 708.6L106.8 710.68L104.38 710.7L105.57 712.8L104.38 714.9L106.8 714.92L108.02 717L109.25 714.92L111.66 714.9L110.47 712.8L111.66 710.7L109.25 710.68ZM120.4 695.7L119.18 697.78L116.76 697.8L117.95 699.9L116.76 702L119.18 702.02L120.4 704.1L121.62 702.02L124.04 702L122.85 699.9L124.04 697.8L121.62 697.78ZM132.78 684.1L131.56 686.18L129.14 686.2L130.33 688.3L129.14 690.4L131.56 690.42L132.78 692.5L134.01 690.42L136.42 690.4L135.23 688.3L136.42 686.2L134.01 686.18ZM145.16 673.6L143.94 675.68L141.52 675.7L142.71 677.8L141.52 679.9L143.94 679.92L145.16 682L146.39 679.92L148.8 679.9L147.61 677.8L148.8 675.7L146.39 675.68ZM157.54 665.8L156.32 667.88L153.9 667.9L155.09 670L153.9 672.1L156.32 672.12L157.54 674.2L158.77 672.12L161.18 672.1L159.99 670L161.18 667.9L158.77 667.88ZM169.92 661.2L168.7 663.28L166.28 663.3L167.47 665.4L166.28 667.5L168.7 667.52L169.92 669.6L171.15 667.52L173.56 667.5L172.37 665.4L173.56 663.3L171.15 663.28ZM182.3 659.5L181.08 661.58L178.66 661.6L179.85 663.7L178.66 665.8L181.08 665.82L182.3 667.9L183.53 665.82L185.94 665.8L184.75 663.7L185.94 661.6L183.53 661.58ZM194.68 661.2L193.46 663.28L191.04 663.3L192.23 665.4L191.04 667.5L193.46 667.52L194.68 669.6L195.91 667.52L198.32 667.5L197.13 665.4L198.32 663.3L195.91 663.28ZM207.06 665.8L205.84 667.88L203.42 667.9L204.61 670L203.42 672.1L205.84 672.12L207.06 674.2L208.29 672.12L210.7 672.1L209.51 670L210.7 667.9L208.29 667.88Z" fill="#f00"/><path d="M58.5 749L57.4 750.89L55.21 750.9L56.3 752.8L55.21 754.7L57.4 754.71L58.5 756.6L59.6 754.71L61.79 754.7L60.7 752.8L61.79 750.9L59.6 750.89ZM70.88 756.1L69.78 757.99L67.59 758L68.68 759.9L67.59 761.8L69.78 761.81L70.88 763.7L71.98 761.81L74.17 761.8L73.08 759.9L74.17 758L71.98 757.99ZM83.26 766.6L82.16 768.49L79.97 768.5L81.06 770.4L79.97 772.3L82.16 772.31L83.26 774.2L84.36 772.31L86.55 772.3L85.46 770.4L86.55 768.5L84.36 768.49ZM95.64 780.6L94.54 782.49L92.35 782.5L93.44 784.4L92.35 786.3L94.54 786.31L95.64 788.2L96.74 786.31L98.93 786.3L97.84 784.4L98.93 782.5L96.74 782.49ZM108.02 796.5L106.92 798.39L104.73 798.4L105.82 800.3L104.73 802.2L106.92 802.21L108.02 804.1L109.12 802.21L111.31 802.2L110.22 800.3L111.31 798.4L109.12 798.39ZM120.4 811.4L119.3 813.29L117.11 813.3L118.2 815.2L117.11 817.1L119.3 817.11L120.4 819L121.5 817.11L123.69 817.1L122.6 815.2L123.69 813.3L121.5 813.29ZM132.78 825L131.68 826.89L129.49 826.9L130.58 828.8L129.49 830.7L131.68 830.71L132.78 832.6L133.88 830.71L136.07 830.7L134.98 828.8L136.07 826.9L133.88 826.89ZM145.16 837.1L144.06 838.99L141.87 839L142.96 840.9L141.87 842.8L144.06 842.81L145.16 844.7L146.26 842.81L148.45 842.8L147.36 840.9L148.45 839L146.26 838.99ZM157.54 846.5L156.44 848.39L154.25 848.4L155.34 850.3L154.25 852.2L156.44 852.21L157.54 854.1L158.64 852.21L160.83 852.2L159.74 850.3L160.83 848.4L158.64 848.39ZM169.92 852.3L168.82 854.19L166.63 854.2L167.72 856.1L166.63 858L168.82 858.01L169.92 859.9L171.02 858.01L173.21 858L172.12 856.1L173.21 854.2L171.02 854.19ZM182.3 854.2L181.2 856.09L179.01 856.1L180.1 858L179.01 859.9L181.2 859.91L182.3 861.8L183.4 859.91L185.59 859.9L184.5 858L185.59 856.1L183.4 856.09ZM194.68 852.3L193.58 854.19L191.39 854.2L192.48 856.1L191.39 858L193.58 858.01L194.68 859.9L195.78 858.01L197.97 858L196.88 856.1L197.97 854.2L195.78 854.19ZM207.06 846.5L205.96 848.39L203.77 848.4L204.86 850.3L203.77 852.2L205.96 852.21L207.06 854.1L208.16 852.21L210.35 852.2L209.26 850.3L210.35 848.4L208.16 848.39Z" fill="none" stroke="#f00" stroke-width="0.8"/><g style="font-size:14.5px" fill="#2b2b2b"><text x="52.4" y="632.15" text-anchor="end">1.15</text><text x="52.4" y="673.75" text-anchor="end">1.1</text><text x="52.4" y="715.35" text-anchor="end">1.05</text><text x="52.4" y="756.95" text-anchor="end">1</text><text x="52.4" y="798.55" text-anchor="end">0.95</text><text x="52.4" y="840.15" text-anchor="end">0.9</text><text x="52.4" y="881.75" text-anchor="end">0.85</text><text x="58.5" y="896.35" text-anchor="middle">0</text><text x="120.4" y="896.35" text-anchor="middle">0.5</text><text x="182.3" y="896.35" text-anchor="middle">1</text><text x="244.2" y="896.35" text-anchor="middle">1.5</text><text x="306.1" y="896.35" text-anchor="middle">2</text><text x="368" y="896.35" text-anchor="middle">2.5</text><text x="429.9" y="896.35" text-anchor="middle">3</text><text x="491.8" y="896.35" text-anchor="middle">3.5</text><text x="553.7" y="896.35" text-anchor="middle">4</text><text x="615.6" y="896.35" text-anchor="middle">4.5</text><text x="677.5" y="896.35" text-anchor="middle">5</text></g><text x="357.83" y="621.95" textLength="19.44" lengthAdjust="spacingAndGlyphs" style="font-size:17.80px" >(c)</text><g fill="#111"><text x="553.21" y="652.95" textLength="12.92" lengthAdjust="spacingAndGlyphs" style="font-size:15.50px;font-style:italic" >Q</text><text x="569.68" y="651.75" textLength="12.73" lengthAdjust="spacingAndGlyphs" style="font-size:15.50px" >=</text><text x="585.99" y="652.95" textLength="35.83" lengthAdjust="spacingAndGlyphs" style="font-size:15.00px" >0.095</text><text x="627.56" y="652.95" textLength="12.70" lengthAdjust="spacingAndGlyphs" style="font-size:15.00px" >m</text><text x="639.94" y="647.35" textLength="5.81" lengthAdjust="spacingAndGlyphs" style="font-size:10.20px" >3</text><text x="647.00" y="652.95" textLength="5.70" lengthAdjust="spacingAndGlyphs" style="font-size:15.50px" >/</text><text x="653.75" y="652.95" textLength="7.11" lengthAdjust="spacingAndGlyphs" style="font-size:15.00px" >s</text></g><g transform="translate(15.7 0) rotate(-90)" fill="#2b2b2b"><text x="-771.61" y="0.00" textLength="9.83" lengthAdjust="spacingAndGlyphs" style="font-size:16.50px;font-style:italic" >h</text><text x="-760.90" y="1.60" textLength="7.40" lengthAdjust="spacingAndGlyphs" style="font-size:20.50px" >/</text><text x="-752.06" y="0.00" textLength="9.12" lengthAdjust="spacingAndGlyphs" style="font-size:16.50px;font-style:italic" >h</text><text x="-742.89" y="3.00" textLength="6.49" lengthAdjust="spacingAndGlyphs" style="font-size:11.50px" >0</text></g></g>
<g fill="#2b2b2b"><text x="350.71" y="917.10" textLength="8.91" lengthAdjust="spacingAndGlyphs" style="font-size:17.50px;font-style:italic" >θ</text><text x="361.00" y="918.60" textLength="7.00" lengthAdjust="spacingAndGlyphs" style="font-size:21.00px" >/</text><text x="368.21" y="917.10" textLength="8.91" lengthAdjust="spacingAndGlyphs" style="font-size:17.50px;font-style:italic" >θ</text><text x="376.78" y="919.70" textLength="6.84" lengthAdjust="spacingAndGlyphs" style="font-size:12.00px" >0</text></g>
<rect x="95.5" y="937.5" width="544.8" height="72.5" fill="#fff" stroke="#6a6a6a" stroke-width="1"/>
<g><circle cx="109.1" cy="948" r="5.05" fill="#000"/><path d="M105.7 959.7L116 965.35L105.7 971Z" fill="#00f"/><path d="M104.75 978.35h8.4v8.4h-8.4Z" fill="#f0f"/><path d="M108.95 994.7L107.48 997.25L104.53 997.25L106 999.8L104.53 1002.35L107.48 1002.35L108.95 1004.9L110.42 1002.35L113.37 1002.35L111.9 999.8L113.37 997.25L110.43 997.25Z" fill="#f00"/><circle cx="383.4" cy="948" r="5" fill="none" stroke="#333" stroke-width="1"/><path d="M380 959.8L389.8 965.35L380 970.9Z" fill="none" stroke="#33f" stroke-width="0.9"/><path d="M379.5 978.35h8v8h-8Z" fill="none" stroke="#f0f" stroke-width="1"/><path d="M383.4 994.8L381.97 997.23L379.16 997.25L380.55 999.7L379.16 1002.15L381.97 1002.17L383.4 1004.6L384.82 1002.17L387.64 1002.15L386.25 999.7L387.64 997.25L384.82 997.23Z" fill="none" stroke="#f22" stroke-width="0.9"/><text x="121.37" y="951.60" textLength="106.44" lengthAdjust="spacingAndGlyphs" style="font-size:14.00px" >Outer wall - Exp.</text><text x="395.65" y="951.60" textLength="102.65" lengthAdjust="spacingAndGlyphs" style="font-size:14.00px" >Inner wall - Exp.</text><text x="121.37" y="968.80" textLength="108.25" lengthAdjust="spacingAndGlyphs" style="font-size:14.00px" >Outer wall - CFD</text><text x="395.65" y="968.80" textLength="104.26" lengthAdjust="spacingAndGlyphs" style="font-size:14.00px" >Inner wall - CFD</text><text x="121.38" y="986.00" textLength="161.89" lengthAdjust="spacingAndGlyphs" style="font-size:14.00px" >Outer wall - Knapp (1951)</text><text x="395.66" y="986.00" textLength="158.11" lengthAdjust="spacingAndGlyphs" style="font-size:14.00px" >Inner wall - Knapp (1951)</text><text x="121.38" y="1003.10" textLength="243.09" lengthAdjust="spacingAndGlyphs" style="font-size:14.00px" >Outer wall - Reinauer and Hager (1997)</text><text x="395.65" y="1003.10" textLength="239.31" lengthAdjust="spacingAndGlyphs" style="font-size:14.00px" >Inner wall - Reinauer and Hager (1997)</text></g>
</svg>
</body></html>
